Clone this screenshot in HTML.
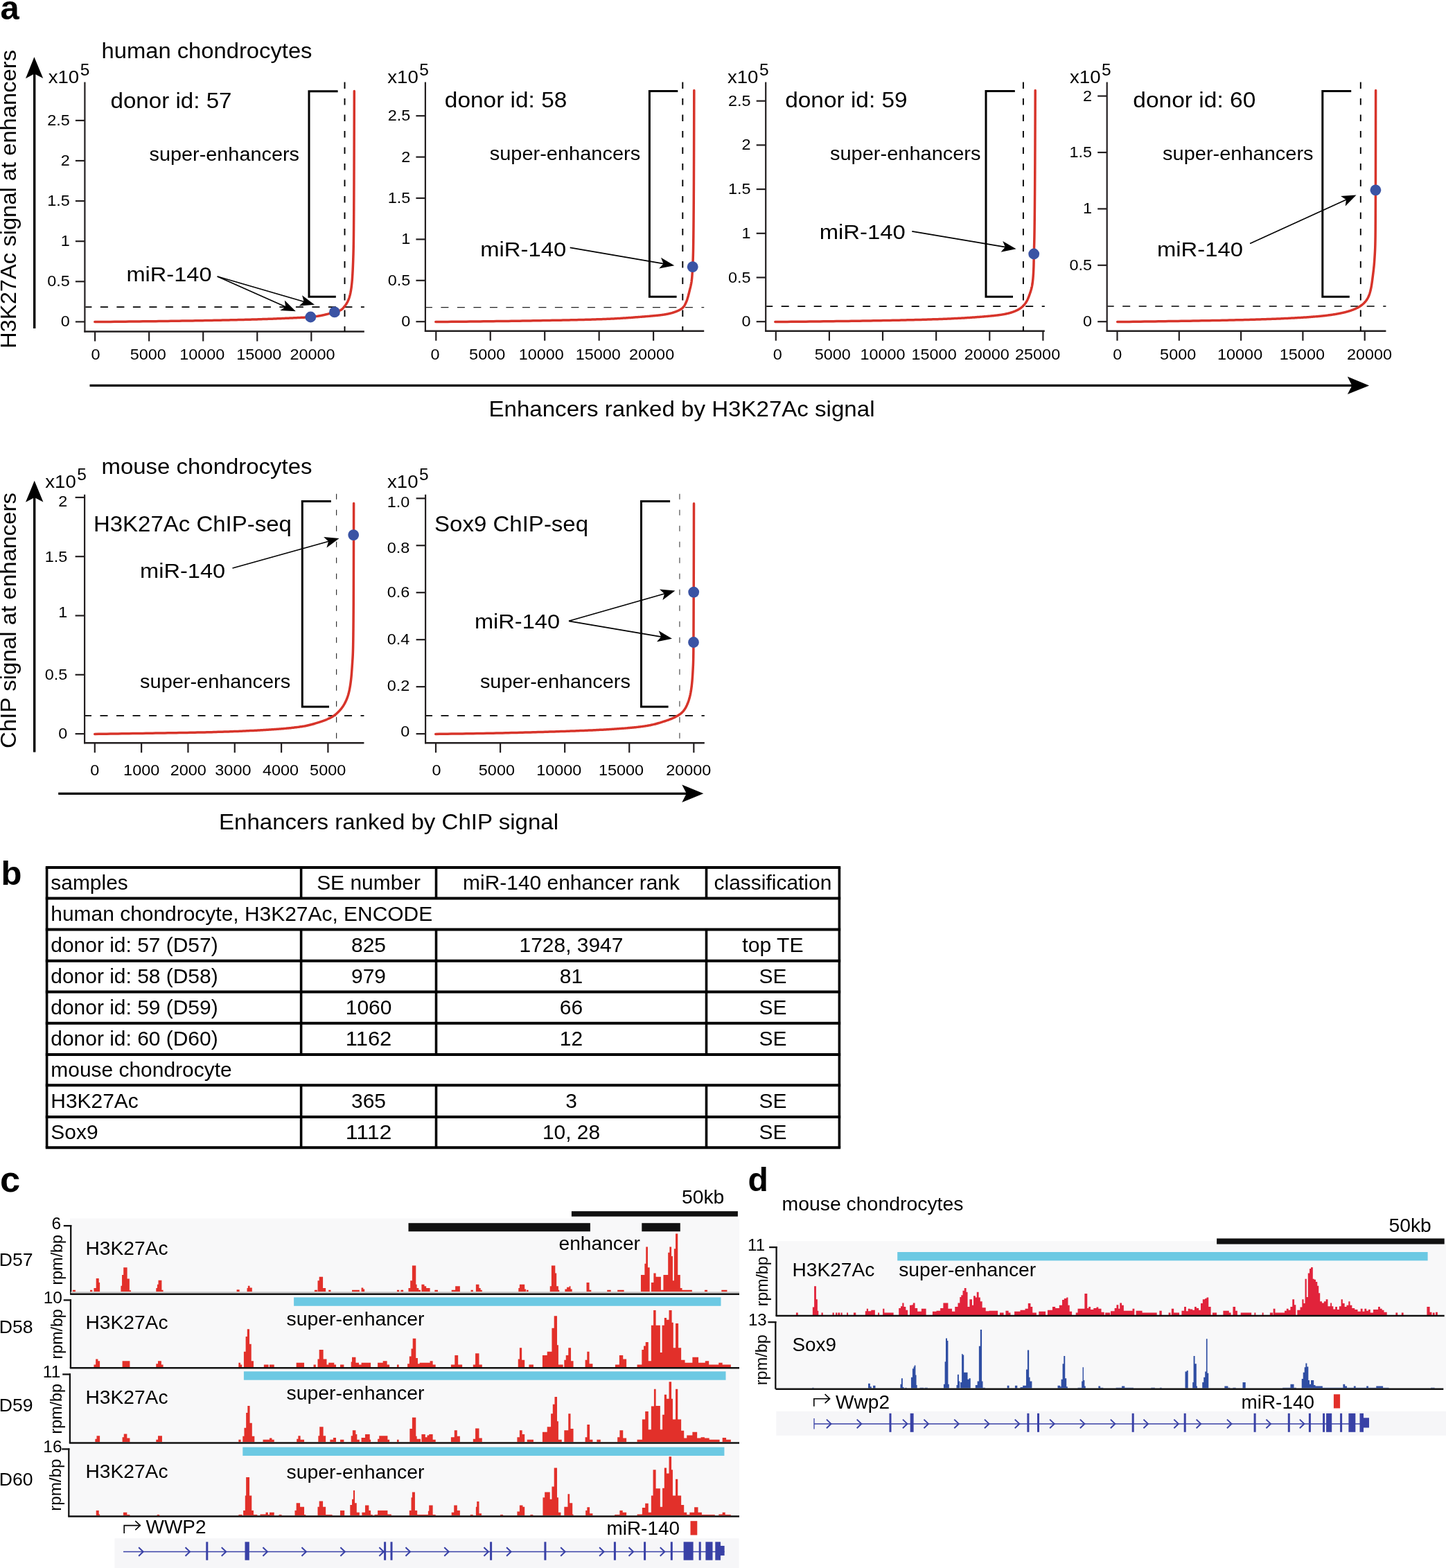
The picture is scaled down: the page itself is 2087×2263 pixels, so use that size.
<!DOCTYPE html>
<html><head><meta charset="utf-8"><title>Figure</title>
<style>html,body{margin:0;padding:0;background:#fff;} svg{display:block;}</style>
</head><body>
<svg width="2087" height="2263" viewBox="0 0 2087 2263" font-family="'Liberation Sans', Arial, Helvetica, sans-serif"><rect width="2087" height="2263" fill="#fff"/>
<text x="0.4" y="28.2" font-size="49" font-weight="bold">a</text>
<line x1="49.7" y1="474" x2="49.7" y2="105" stroke="#000" stroke-width="3.4"/>
<polygon points="49.4,82.3 37,113.3 49.6,106.4 62.2,113" fill="#000"/>
<text transform="translate(23.3,503) rotate(-90)" font-size="31.6" textLength="431" lengthAdjust="spacingAndGlyphs">H3K27Ac signal at enhancers</text>
<text x="146.5" y="83.5" font-size="30.8" textLength="304" lengthAdjust="spacingAndGlyphs">human chondrocytes</text>
<line x1="122.4" y1="118.5" x2="122.4" y2="479.5" stroke="#231f20" stroke-width="2.2"/>
<line x1="121.4" y1="478.5" x2="525.8" y2="478.5" stroke="#231f20" stroke-width="2.4"/>
<line x1="108.9" y1="464.4" x2="122.4" y2="464.4" stroke="#231f20" stroke-width="2.2"/>
<text x="100.8" y="471.4" font-size="22" text-anchor="end" textLength="13.03" lengthAdjust="spacingAndGlyphs">0</text>
<line x1="108.9" y1="406.3" x2="122.4" y2="406.3" stroke="#231f20" stroke-width="2.2"/>
<text x="100.8" y="413.3" font-size="22" text-anchor="end" textLength="32.57" lengthAdjust="spacingAndGlyphs">0.5</text>
<line x1="108.9" y1="348.2" x2="122.4" y2="348.2" stroke="#231f20" stroke-width="2.2"/>
<text x="100.8" y="355.2" font-size="22" text-anchor="end" textLength="13.03" lengthAdjust="spacingAndGlyphs">1</text>
<line x1="108.9" y1="290.1" x2="122.4" y2="290.1" stroke="#231f20" stroke-width="2.2"/>
<text x="100.8" y="297.1" font-size="22" text-anchor="end" textLength="32.57" lengthAdjust="spacingAndGlyphs">1.5</text>
<line x1="108.9" y1="232" x2="122.4" y2="232" stroke="#231f20" stroke-width="2.2"/>
<text x="100.8" y="239" font-size="22" text-anchor="end" textLength="13.03" lengthAdjust="spacingAndGlyphs">2</text>
<line x1="108.9" y1="173.9" x2="122.4" y2="173.9" stroke="#231f20" stroke-width="2.2"/>
<text x="100.8" y="180.9" font-size="22" text-anchor="end" textLength="32.57" lengthAdjust="spacingAndGlyphs">2.5</text>
<line x1="137.1" y1="478.5" x2="137.1" y2="492.5" stroke="#231f20" stroke-width="2.2"/>
<text x="138.1" y="519" font-size="22" text-anchor="middle" textLength="13.03" lengthAdjust="spacingAndGlyphs">0</text>
<line x1="215.15" y1="478.5" x2="215.15" y2="492.5" stroke="#231f20" stroke-width="2.2"/>
<text x="213.8" y="519" font-size="22" text-anchor="middle" textLength="52.12" lengthAdjust="spacingAndGlyphs">5000</text>
<line x1="293.2" y1="478.5" x2="293.2" y2="492.5" stroke="#231f20" stroke-width="2.2"/>
<text x="291.7" y="519" font-size="22" text-anchor="middle" textLength="65.15" lengthAdjust="spacingAndGlyphs">10000</text>
<line x1="371.25" y1="478.5" x2="371.25" y2="492.5" stroke="#231f20" stroke-width="2.2"/>
<text x="373.8" y="519" font-size="22" text-anchor="middle" textLength="65.15" lengthAdjust="spacingAndGlyphs">15000</text>
<line x1="449.3" y1="478.5" x2="449.3" y2="492.5" stroke="#231f20" stroke-width="2.2"/>
<text x="451" y="519" font-size="22" text-anchor="middle" textLength="65.15" lengthAdjust="spacingAndGlyphs">20000</text>
<line x1="497.5" y1="118.5" x2="497.5" y2="478.5" stroke="#000" stroke-width="1.9" stroke-dasharray="9.5 14"/>
<line x1="123.4" y1="443.1" x2="525.8" y2="443.1" stroke="#000" stroke-width="1.6" stroke-dasharray="11 12.5" stroke-dashoffset="2"/>
<path d="M487.6,131.8 H446 V428.3 H484.8" fill="none" stroke="#000" stroke-width="3"/>
<path d="M136.8,464.6 L142.66,464.55 L148.43,464.49 L154.12,464.43 L159.71,464.38 L165.21,464.32 L170.63,464.27 L175.97,464.21 L181.22,464.16 L186.39,464.1 L191.47,464.04 L196.48,463.99 L201.41,463.93 L206.27,463.87 L211.04,463.82 L215.75,463.76 L220.38,463.7 L224.93,463.64 L229.42,463.58 L233.83,463.53 L238.18,463.47 L242.46,463.41 L246.67,463.35 L250.82,463.29 L254.9,463.23 L258.92,463.18 L262.87,463.12 L266.76,463.06 L270.6,463 L274.37,462.94 L278.08,462.88 L281.74,462.82 L285.34,462.76 L288.88,462.7 L292.36,462.64 L295.8,462.58 L299.18,462.52 L302.5,462.46 L305.77,462.39 L309,462.33 L312.17,462.27 L315.29,462.21 L318.37,462.15 L321.39,462.09 L324.37,462.03 L327.3,461.96 L330.19,461.9 L333.03,461.84 L335.83,461.78 L338.58,461.72 L341.29,461.65 L343.96,461.59 L346.58,461.53 L349.17,461.46 L351.71,461.4 L354.22,461.34 L356.68,461.27 L359.11,461.21 L361.5,461.14 L363.85,461.08 L366.16,461.02 L368.44,460.95 L370.69,460.88 L372.9,460.82 L375.07,460.75 L377.21,460.69 L379.31,460.62 L381.39,460.55 L383.43,460.48 L385.44,460.42 L387.42,460.35 L389.36,460.28 L391.28,460.21 L393.17,460.14 L395.02,460.07 L396.85,460 L398.65,459.92 L400.42,459.85 L402.16,459.78 L403.88,459.71 L405.57,459.64 L407.23,459.57 L408.87,459.5 L410.48,459.43 L412.07,459.36 L413.63,459.29 L415.17,459.22 L416.68,459.16 L418.17,459.09 L419.64,459.02 L421.08,458.96 L422.5,458.9 L423.9,458.84 L425.28,458.78 L426.63,458.72 L427.96,458.66 L429.28,458.6 L430.57,458.54 L431.84,458.49 L433.1,458.43 L434.33,458.37 L435.54,458.31 L436.74,458.25 L437.91,458.19 L439.07,458.13 L440.21,458.06 L441.33,458 L442.44,457.93 L443.52,457.86 L444.59,457.79 L445.65,457.71 L446.68,457.63 L447.7,457.55 L448.71,457.46 L449.7,457.37 L450.67,457.28 L451.63,457.18 L452.57,457.08 L453.5,456.97 L454.42,456.86 L455.32,456.74 L456.2,456.62 L457.07,456.49 L457.93,456.37 L458.78,456.24 L459.61,456.1 L460.43,455.96 L461.23,455.82 L462.03,455.68 L462.81,455.54 L463.58,455.39 L464.33,455.24 L465.08,455.09 L465.81,454.93 L466.53,454.78 L467.24,454.62 L467.94,454.46 L468.63,454.3 L469.31,454.14 L469.98,453.98 L470.63,453.82 L471.28,453.66 L471.92,453.49 L472.54,453.33 L473.16,453.17 L473.77,453.01 L474.36,452.84 L474.95,452.68 L475.53,452.52 L476.1,452.36 L476.66,452.2 L477.21,452.04 L477.76,451.88 L478.29,451.73 L478.82,451.57 L479.34,451.42 L479.85,451.27 L480.35,451.12 L480.84,450.97 L481.33,450.83 L481.81,450.69 L482.28,450.55 L482.75,450.42 L483.2,450.28 L483.65,450.16 L484.1,450.03 L484.53,449.91 L484.96,449.8 L485.38,449.68 L485.8,449.57 L486.21,449.46 L486.61,449.35 L487.01,449.24 L487.4,449.13 L487.78,449.01 L488.16,448.9 L488.53,448.78 L488.9,448.66 L489.26,448.54 L489.62,448.42 L489.97,448.28 L490.31,448.15 L490.65,448.01 L490.98,447.86 L491.31,447.7 L491.64,447.54 L491.95,447.37 L492.27,447.19 L492.58,446.99 L492.88,446.78 L493.18,446.55 L493.47,446.32 L493.76,446.07 L494.05,445.81 L494.33,445.55 L494.6,445.27 L494.88,444.99 L495.14,444.71 L495.41,444.42 L495.67,444.12 L495.92,443.83 L496.17,443.53 L496.42,443.23 L496.66,442.93 L496.9,442.63 L497.14,442.33 L497.37,442.04 L497.6,441.75 L497.82,441.45 L498.05,441.16 L498.26,440.87 L498.48,440.58 L498.69,440.28 L498.9,439.99 L499.1,439.69 L499.3,439.4 L499.5,439.1 L499.7,438.8 L499.89,438.5 L500.08,438.2 L500.27,437.9 L500.45,437.59 L500.63,437.29 L500.81,436.98 L500.98,436.67 L501.15,436.35 L501.32,436.04 L501.49,435.72 L501.65,435.4 L501.82,435.08 L501.98,434.75 L502.13,434.42 L502.29,434.09 L502.44,433.75 L502.59,433.42 L502.73,433.07 L502.88,432.73 L503.02,432.38 L503.16,432.03 L503.3,431.67 L503.44,431.31 L503.57,430.95 L503.7,430.58 L503.83,430.2 L503.96,429.82 L504.08,429.44 L504.21,429.05 L504.33,428.66 L504.45,428.27 L504.57,427.86 L504.68,427.46 L504.8,427.04 L504.91,426.63 L505.02,426.2 L505.13,425.77 L505.24,425.34 L505.34,424.89 L505.45,424.45 L505.55,423.99 L505.65,423.53 L505.75,423.07 L505.85,422.6 L505.94,422.12 L506.04,421.63 L506.13,421.14 L506.22,420.65 L506.31,420.14 L506.4,419.63 L506.49,419.12 L506.58,418.59 L506.66,418.06 L506.74,417.53 L506.83,416.98 L506.91,416.43 L506.99,415.88 L507.07,415.31 L507.14,414.74 L507.22,414.16 L507.29,413.58 L507.37,412.98 L507.44,412.39 L507.51,411.78 L507.58,411.16 L507.65,410.54 L507.72,409.91 L507.78,409.28 L507.85,408.63 L507.92,407.98 L507.98,407.32 L508.04,406.65 L508.1,405.97 L508.16,405.27 L508.22,404.56 L508.28,403.83 L508.34,403.08 L508.4,402.33 L508.45,401.55 L508.51,400.77 L508.56,399.97 L508.62,399.16 L508.67,398.33 L508.72,397.49 L508.77,396.64 L508.83,395.78 L508.87,394.91 L508.92,394.02 L508.97,393.12 L509.02,392.22 L509.07,391.3 L509.11,390.37 L509.16,389.42 L509.2,388.47 L509.24,387.51 L509.29,386.54 L509.33,385.56 L509.37,384.57 L509.41,383.57 L509.45,382.57 L509.49,381.55 L509.53,380.53 L509.57,379.5 L509.61,378.46 L509.65,377.42 L509.68,376.39 L509.72,375.36 L509.75,374.33 L509.79,373.3 L509.82,372.26 L509.86,371.21 L509.89,370.15 L509.92,369.07 L509.96,367.97 L509.99,366.85 L510.02,365.7 L510.05,364.53 L510.08,363.32 L510.11,362.08 L510.14,360.81 L510.17,359.49 L510.2,358.13 L510.23,356.72 L510.25,355.26 L510.28,353.75 L510.31,352.18 L510.34,350.56 L510.36,348.87 L510.39,347.12 L510.41,345.3 L510.44,343.38 L510.46,341.36 L510.49,339.24 L510.51,337.03 L510.53,334.72 L510.56,332.31 L510.58,329.8 L510.6,327.21 L510.62,324.51 L510.64,321.73 L510.66,318.85 L510.69,315.88 L510.71,312.82 L510.73,309.67 L510.75,306.43 L510.77,303.11 L510.79,299.69 L510.8,296.19 L510.82,292.61 L510.84,288.94 L510.86,285.18 L510.88,281.34 L510.89,277.42 L510.91,273.42 L510.93,269.34 L510.95,265.17 L510.96,260.93 L510.98,256.61 L510.99,252.21 L511.01,247.73 L511.03,243.18 L511.04,238.56 L511.06,233.86 L511.07,229.08 L511.09,224.24 L511.1,219.32 L511.11,214.33 L511.13,209.27 L511.14,204.14 L511.15,198.94 L511.17,193.67 L511.18,188.34 L511.19,182.94 L511.21,177.47 L511.22,171.95 L511.23,166.35 L511.24,160.7 L511.25,154.98 L511.27,149.2 L511.28,143.36 L511.29,137.46 L511.3,131.5" fill="none" stroke="#d7342a" stroke-width="3.5" stroke-linecap="round" stroke-linejoin="round"/>
<circle cx="448.3" cy="457.5" r="7.9" fill="#3a53a4"/>
<circle cx="482.9" cy="450.4" r="7.9" fill="#3a53a4"/>
<text x="159.5" y="155.5" font-size="31" textLength="175" lengthAdjust="spacingAndGlyphs">donor id: 57</text>
<text x="215.5" y="231.6" font-size="28" textLength="216.5" lengthAdjust="spacingAndGlyphs">super-enhancers</text>
<text x="182.5" y="405.5" font-size="30" textLength="123" lengthAdjust="spacingAndGlyphs">miR-140</text>
<line x1="313.7" y1="399" x2="412.64" y2="443" stroke="#000" stroke-width="1.7"/>
<polygon points="426.8,449.3 404.36,448.08 412.18,442.8 410.86,433.46" fill="#000"/>
<line x1="313.7" y1="399" x2="439.12" y2="435.47" stroke="#000" stroke-width="1.7"/>
<polygon points="454,439.8 431.6,441.62 438.64,435.33 436.07,426.25" fill="#000"/>
<text x="69.7" y="120" font-size="26.5" textLength="44.5" lengthAdjust="spacingAndGlyphs">x10</text>
<text x="115.7" y="108.7" font-size="24.5">5</text>
<line x1="613.9" y1="118.5" x2="613.9" y2="478.7" stroke="#231f20" stroke-width="2.2"/>
<line x1="612.9" y1="477.7" x2="1016.2" y2="477.7" stroke="#231f20" stroke-width="2.4"/>
<line x1="600.4" y1="464.2" x2="613.9" y2="464.2" stroke="#231f20" stroke-width="2.2"/>
<text x="592.3" y="471.2" font-size="22" text-anchor="end" textLength="13.03" lengthAdjust="spacingAndGlyphs">0</text>
<line x1="600.4" y1="404.8" x2="613.9" y2="404.8" stroke="#231f20" stroke-width="2.2"/>
<text x="592.3" y="411.8" font-size="22" text-anchor="end" textLength="32.57" lengthAdjust="spacingAndGlyphs">0.5</text>
<line x1="600.4" y1="345.4" x2="613.9" y2="345.4" stroke="#231f20" stroke-width="2.2"/>
<text x="592.3" y="352.4" font-size="22" text-anchor="end" textLength="13.03" lengthAdjust="spacingAndGlyphs">1</text>
<line x1="600.4" y1="286" x2="613.9" y2="286" stroke="#231f20" stroke-width="2.2"/>
<text x="592.3" y="293" font-size="22" text-anchor="end" textLength="32.57" lengthAdjust="spacingAndGlyphs">1.5</text>
<line x1="600.4" y1="226.6" x2="613.9" y2="226.6" stroke="#231f20" stroke-width="2.2"/>
<text x="592.3" y="233.6" font-size="22" text-anchor="end" textLength="13.03" lengthAdjust="spacingAndGlyphs">2</text>
<line x1="600.4" y1="167.2" x2="613.9" y2="167.2" stroke="#231f20" stroke-width="2.2"/>
<text x="592.3" y="174.2" font-size="22" text-anchor="end" textLength="32.57" lengthAdjust="spacingAndGlyphs">2.5</text>
<line x1="629.3" y1="477.7" x2="629.3" y2="491.7" stroke="#231f20" stroke-width="2.2"/>
<text x="628.1" y="519" font-size="22" text-anchor="middle" textLength="13.03" lengthAdjust="spacingAndGlyphs">0</text>
<line x1="707.75" y1="477.7" x2="707.75" y2="491.7" stroke="#231f20" stroke-width="2.2"/>
<text x="703.2" y="519" font-size="22" text-anchor="middle" textLength="52.12" lengthAdjust="spacingAndGlyphs">5000</text>
<line x1="786.2" y1="477.7" x2="786.2" y2="491.7" stroke="#231f20" stroke-width="2.2"/>
<text x="781.2" y="519" font-size="22" text-anchor="middle" textLength="65.15" lengthAdjust="spacingAndGlyphs">10000</text>
<line x1="864.65" y1="477.7" x2="864.65" y2="491.7" stroke="#231f20" stroke-width="2.2"/>
<text x="863.2" y="519" font-size="22" text-anchor="middle" textLength="65.15" lengthAdjust="spacingAndGlyphs">15000</text>
<line x1="943.1" y1="477.7" x2="943.1" y2="491.7" stroke="#231f20" stroke-width="2.2"/>
<text x="940.6" y="519" font-size="22" text-anchor="middle" textLength="65.15" lengthAdjust="spacingAndGlyphs">20000</text>
<line x1="985.3" y1="118.5" x2="985.3" y2="477.7" stroke="#000" stroke-width="1.9" stroke-dasharray="9.5 14"/>
<line x1="614.9" y1="443.6" x2="1016.2" y2="443.6" stroke="#222" stroke-width="1.25" stroke-dasharray="11 12.5" stroke-dashoffset="2"/>
<path d="M978.3,131.4 H937.4 V428.3 H976.6" fill="none" stroke="#000" stroke-width="3"/>
<path d="M628.8,464.6 L634.64,464.54 L640.38,464.49 L646.04,464.43 L651.6,464.37 L657.08,464.31 L662.48,464.26 L667.79,464.2 L673.01,464.14 L678.16,464.08 L683.22,464.03 L688.21,463.97 L693.12,463.91 L697.95,463.85 L702.71,463.8 L707.39,463.74 L712,463.68 L716.53,463.62 L721,463.56 L725.39,463.5 L729.72,463.45 L733.98,463.39 L738.17,463.33 L742.3,463.27 L746.37,463.21 L750.37,463.15 L754.3,463.09 L758.18,463.03 L761.99,462.98 L765.75,462.92 L769.45,462.86 L773.09,462.8 L776.67,462.74 L780.2,462.68 L783.67,462.61 L787.09,462.55 L790.45,462.49 L793.76,462.43 L797.02,462.37 L800.23,462.32 L803.39,462.26 L806.5,462.2 L809.56,462.14 L812.57,462.08 L815.54,462.02 L818.46,461.96 L821.33,461.9 L824.16,461.84 L826.95,461.78 L829.69,461.72 L832.39,461.66 L835.04,461.6 L837.66,461.54 L840.23,461.48 L842.77,461.41 L845.26,461.35 L847.72,461.29 L850.13,461.22 L852.51,461.15 L854.85,461.08 L857.16,461.02 L859.43,460.95 L861.66,460.87 L863.86,460.8 L866.03,460.73 L868.16,460.65 L870.26,460.57 L872.32,460.49 L874.36,460.41 L876.36,460.33 L878.33,460.24 L880.27,460.15 L882.17,460.06 L884.05,459.97 L885.9,459.88 L887.72,459.79 L889.52,459.69 L891.28,459.6 L893.02,459.5 L894.73,459.4 L896.41,459.3 L898.07,459.2 L899.7,459.1 L901.3,459 L902.88,458.9 L904.44,458.79 L905.97,458.69 L907.48,458.59 L908.96,458.49 L910.42,458.38 L911.86,458.28 L913.28,458.18 L914.67,458.07 L916.04,457.97 L917.39,457.87 L918.72,457.77 L920.03,457.67 L921.32,457.57 L922.58,457.47 L923.83,457.37 L925.06,457.27 L926.27,457.18 L927.46,457.08 L928.63,456.99 L929.79,456.9 L930.92,456.81 L932.04,456.72 L933.14,456.63 L934.22,456.54 L935.29,456.45 L936.34,456.37 L937.37,456.28 L938.39,456.2 L939.39,456.11 L940.38,456.03 L941.35,455.95 L942.3,455.86 L943.24,455.78 L944.17,455.7 L945.08,455.61 L945.97,455.53 L946.86,455.44 L947.73,455.36 L948.58,455.27 L949.42,455.18 L950.25,455.09 L951.07,455 L951.87,454.91 L952.66,454.82 L953.44,454.73 L954.21,454.63 L954.96,454.54 L955.7,454.44 L956.43,454.34 L957.15,454.23 L957.86,454.13 L958.56,454.02 L959.24,453.91 L959.92,453.8 L960.59,453.68 L961.24,453.57 L961.88,453.45 L962.52,453.33 L963.14,453.2 L963.76,453.08 L964.36,452.95 L964.96,452.83 L965.54,452.7 L966.12,452.56 L966.69,452.43 L967.25,452.3 L967.8,452.16 L968.34,452.02 L968.87,451.88 L969.4,451.74 L969.92,451.59 L970.43,451.45 L970.93,451.3 L971.42,451.15 L971.9,451 L972.38,450.85 L972.85,450.69 L973.32,450.54 L973.77,450.38 L974.22,450.22 L974.66,450.06 L975.1,449.9 L975.52,449.74 L975.95,449.57 L976.36,449.41 L976.77,449.24 L977.17,449.07 L977.57,448.9 L977.96,448.73 L978.34,448.55 L978.72,448.38 L979.09,448.2 L979.45,448.02 L979.81,447.84 L980.17,447.66 L980.52,447.48 L980.86,447.3 L981.2,447.11 L981.53,446.93 L981.86,446.74 L982.18,446.54 L982.5,446.35 L982.81,446.15 L983.12,445.94 L983.42,445.73 L983.72,445.52 L984.01,445.3 L984.3,445.07 L984.58,444.84 L984.86,444.61 L985.14,444.36 L985.41,444.11 L985.68,443.85 L985.94,443.59 L986.2,443.31 L986.45,443.03 L986.7,442.72 L986.95,442.4 L987.19,442.07 L987.43,441.72 L987.67,441.35 L987.9,440.97 L988.13,440.58 L988.35,440.18 L988.57,439.77 L988.79,439.35 L989,438.93 L989.21,438.49 L989.42,438.06 L989.63,437.62 L989.83,437.17 L990.03,436.73 L990.22,436.28 L990.41,435.84 L990.6,435.4 L990.79,434.95 L990.97,434.5 L991.15,434.03 L991.33,433.56 L991.5,433.08 L991.67,432.59 L991.84,432.1 L992.01,431.6 L992.17,431.09 L992.33,430.58 L992.49,430.06 L992.65,429.54 L992.8,429.02 L992.95,428.5 L993.1,427.97 L993.25,427.44 L993.39,426.91 L993.54,426.38 L993.68,425.85 L993.81,425.32 L993.95,424.8 L994.08,424.27 L994.21,423.75 L994.34,423.23 L994.47,422.71 L994.6,422.2 L994.72,421.7 L994.84,421.2 L994.96,420.7 L995.08,420.21 L995.2,419.73 L995.31,419.26 L995.42,418.8 L995.53,418.35 L995.64,417.9 L995.75,417.47 L995.85,417.04 L995.96,416.62 L996.06,416.21 L996.16,415.8 L996.26,415.4 L996.36,415 L996.45,414.6 L996.55,414.21 L996.64,413.82 L996.73,413.43 L996.82,413.04 L996.91,412.66 L997,412.27 L997.08,411.88 L997.17,411.48 L997.25,411.09 L997.33,410.68 L997.41,410.28 L997.49,409.87 L997.57,409.45 L997.65,409.03 L997.72,408.6 L997.8,408.16 L997.87,407.71 L997.94,407.25 L998.02,406.78 L998.09,406.3 L998.15,405.81 L998.22,405.31 L998.29,404.79 L998.35,404.26 L998.42,403.71 L998.48,403.15 L998.55,402.57 L998.61,401.96 L998.67,401.33 L998.73,400.68 L998.79,400 L998.85,399.3 L998.9,398.58 L998.96,397.84 L999.01,397.08 L999.07,396.3 L999.12,395.51 L999.17,394.7 L999.23,393.88 L999.28,393.05 L999.33,392.2 L999.38,391.35 L999.43,390.48 L999.47,389.6 L999.52,388.72 L999.57,387.83 L999.61,386.93 L999.66,386.03 L999.7,385.13 L999.75,384.23 L999.79,383.33 L999.83,382.43 L999.87,381.52 L999.92,380.61 L999.96,379.69 L1000,378.76 L1000.03,377.81 L1000.07,376.85 L1000.11,375.86 L1000.15,374.86 L1000.18,373.82 L1000.22,372.76 L1000.26,371.67 L1000.29,370.55 L1000.33,369.38 L1000.36,368.18 L1000.39,366.94 L1000.43,365.65 L1000.46,364.31 L1000.49,362.93 L1000.52,361.48 L1000.55,359.96 L1000.58,358.37 L1000.61,356.7 L1000.64,354.96 L1000.67,353.15 L1000.7,351.27 L1000.73,349.33 L1000.76,347.32 L1000.78,345.25 L1000.81,343.11 L1000.84,340.92 L1000.86,338.67 L1000.89,336.36 L1000.91,334 L1000.94,331.58 L1000.96,329.11 L1000.99,326.59 L1001.01,324.03 L1001.03,321.41 L1001.06,318.76 L1001.08,316.05 L1001.1,313.31 L1001.12,310.53 L1001.14,307.71 L1001.17,304.85 L1001.19,301.96 L1001.21,299.03 L1001.23,296.03 L1001.25,292.96 L1001.27,289.8 L1001.29,286.57 L1001.3,283.27 L1001.32,279.88 L1001.34,276.43 L1001.36,272.89 L1001.38,269.29 L1001.4,265.61 L1001.41,261.86 L1001.43,258.04 L1001.45,254.15 L1001.46,250.19 L1001.48,246.16 L1001.49,242.06 L1001.51,237.89 L1001.53,233.66 L1001.54,229.35 L1001.56,224.99 L1001.57,220.56 L1001.59,216.06 L1001.6,211.5 L1001.61,206.88 L1001.63,202.2 L1001.64,197.45 L1001.65,192.65 L1001.67,187.78 L1001.68,182.85 L1001.69,177.87 L1001.71,172.83 L1001.72,167.73 L1001.73,162.58 L1001.74,157.36 L1001.75,152.1 L1001.77,146.78 L1001.78,141.41 L1001.79,135.98 L1001.8,130.5" fill="none" stroke="#d7342a" stroke-width="3.5" stroke-linecap="round" stroke-linejoin="round"/>
<circle cx="999.7" cy="385.2" r="7.9" fill="#3a53a4"/>
<text x="641.8" y="155.2" font-size="31" textLength="176.5" lengthAdjust="spacingAndGlyphs">donor id: 58</text>
<text x="706.7" y="230.6" font-size="28" textLength="217.5" lengthAdjust="spacingAndGlyphs">super-enhancers</text>
<text x="693.2" y="369.5" font-size="30" textLength="124" lengthAdjust="spacingAndGlyphs">miR-140</text>
<line x1="822.7" y1="357.3" x2="958.02" y2="380.57" stroke="#000" stroke-width="1.7"/>
<polygon points="973.3,383.2 951.25,387.52 957.53,380.49 953.96,371.76" fill="#000"/>
<text x="559.3" y="120" font-size="26.5" textLength="44.5" lengthAdjust="spacingAndGlyphs">x10</text>
<text x="605.3" y="108.7" font-size="24.5">5</text>
<line x1="1105.2" y1="118.5" x2="1105.2" y2="478.7" stroke="#231f20" stroke-width="2.2"/>
<line x1="1104.2" y1="477.7" x2="1507.8" y2="477.7" stroke="#231f20" stroke-width="2.4"/>
<line x1="1091.7" y1="464.2" x2="1105.2" y2="464.2" stroke="#231f20" stroke-width="2.2"/>
<text x="1083.6" y="471.2" font-size="22" text-anchor="end" textLength="13.03" lengthAdjust="spacingAndGlyphs">0</text>
<line x1="1091.7" y1="400.5" x2="1105.2" y2="400.5" stroke="#231f20" stroke-width="2.2"/>
<text x="1083.6" y="407.5" font-size="22" text-anchor="end" textLength="32.57" lengthAdjust="spacingAndGlyphs">0.5</text>
<line x1="1091.7" y1="336.8" x2="1105.2" y2="336.8" stroke="#231f20" stroke-width="2.2"/>
<text x="1083.6" y="343.8" font-size="22" text-anchor="end" textLength="13.03" lengthAdjust="spacingAndGlyphs">1</text>
<line x1="1091.7" y1="273.1" x2="1105.2" y2="273.1" stroke="#231f20" stroke-width="2.2"/>
<text x="1083.6" y="280.1" font-size="22" text-anchor="end" textLength="32.57" lengthAdjust="spacingAndGlyphs">1.5</text>
<line x1="1091.7" y1="209.4" x2="1105.2" y2="209.4" stroke="#231f20" stroke-width="2.2"/>
<text x="1083.6" y="216.4" font-size="22" text-anchor="end" textLength="13.03" lengthAdjust="spacingAndGlyphs">2</text>
<line x1="1091.7" y1="145.7" x2="1105.2" y2="145.7" stroke="#231f20" stroke-width="2.2"/>
<text x="1083.6" y="152.7" font-size="22" text-anchor="end" textLength="32.57" lengthAdjust="spacingAndGlyphs">2.5</text>
<line x1="1119.8" y1="477.7" x2="1119.8" y2="491.7" stroke="#231f20" stroke-width="2.2"/>
<text x="1122.4" y="519" font-size="22" text-anchor="middle" textLength="13.03" lengthAdjust="spacingAndGlyphs">0</text>
<line x1="1196.92" y1="477.7" x2="1196.92" y2="491.7" stroke="#231f20" stroke-width="2.2"/>
<text x="1201.8" y="519" font-size="22" text-anchor="middle" textLength="52.12" lengthAdjust="spacingAndGlyphs">5000</text>
<line x1="1274.04" y1="477.7" x2="1274.04" y2="491.7" stroke="#231f20" stroke-width="2.2"/>
<text x="1274" y="519" font-size="22" text-anchor="middle" textLength="65.15" lengthAdjust="spacingAndGlyphs">10000</text>
<line x1="1351.16" y1="477.7" x2="1351.16" y2="491.7" stroke="#231f20" stroke-width="2.2"/>
<text x="1348.1" y="519" font-size="22" text-anchor="middle" textLength="65.15" lengthAdjust="spacingAndGlyphs">15000</text>
<line x1="1428.28" y1="477.7" x2="1428.28" y2="491.7" stroke="#231f20" stroke-width="2.2"/>
<text x="1424.3" y="519" font-size="22" text-anchor="middle" textLength="65.15" lengthAdjust="spacingAndGlyphs">20000</text>
<line x1="1505.4" y1="477.7" x2="1505.4" y2="491.7" stroke="#231f20" stroke-width="2.2"/>
<text x="1497.6" y="519" font-size="22" text-anchor="middle" textLength="65.15" lengthAdjust="spacingAndGlyphs">25000</text>
<line x1="1476.9" y1="118.5" x2="1476.9" y2="477.7" stroke="#000" stroke-width="1.9" stroke-dasharray="9.5 14"/>
<line x1="1106.2" y1="442.1" x2="1507.8" y2="442.1" stroke="#000" stroke-width="1.6" stroke-dasharray="11 12.5" stroke-dashoffset="2"/>
<path d="M1464.8,131.4 H1423 V428.3 H1462" fill="none" stroke="#000" stroke-width="3"/>
<path d="M1118.8,464.6 L1124.68,464.54 L1130.47,464.49 L1136.16,464.43 L1141.77,464.37 L1147.29,464.31 L1152.73,464.25 L1158.07,464.2 L1163.34,464.14 L1168.52,464.08 L1173.62,464.02 L1178.65,463.96 L1183.59,463.91 L1188.46,463.85 L1193.25,463.79 L1197.96,463.73 L1202.6,463.67 L1207.17,463.61 L1211.67,463.56 L1216.1,463.5 L1220.46,463.44 L1224.75,463.38 L1228.97,463.32 L1233.13,463.26 L1237.22,463.21 L1241.25,463.15 L1245.21,463.09 L1249.12,463.03 L1252.96,462.97 L1256.74,462.91 L1260.46,462.85 L1264.13,462.78 L1267.74,462.72 L1271.29,462.66 L1274.78,462.59 L1278.22,462.53 L1281.61,462.47 L1284.94,462.4 L1288.23,462.33 L1291.46,462.27 L1294.64,462.2 L1297.77,462.14 L1300.85,462.07 L1303.88,462 L1306.87,461.94 L1309.81,461.87 L1312.7,461.8 L1315.55,461.73 L1318.35,461.66 L1321.11,461.59 L1323.83,461.52 L1326.5,461.45 L1329.14,461.38 L1331.73,461.31 L1334.28,461.23 L1336.79,461.16 L1339.26,461.09 L1341.69,461.01 L1344.09,460.93 L1346.45,460.86 L1348.77,460.78 L1351.05,460.7 L1353.3,460.63 L1355.51,460.55 L1357.69,460.47 L1359.84,460.39 L1361.95,460.3 L1364.03,460.22 L1366.07,460.14 L1368.09,460.05 L1370.07,459.97 L1372.02,459.88 L1373.94,459.79 L1375.83,459.7 L1377.69,459.62 L1379.53,459.53 L1381.33,459.43 L1383.11,459.34 L1384.85,459.25 L1386.57,459.16 L1388.27,459.07 L1389.93,458.97 L1391.57,458.88 L1393.19,458.78 L1394.78,458.69 L1396.34,458.59 L1397.89,458.5 L1399.4,458.4 L1400.89,458.3 L1402.36,458.2 L1403.81,458.11 L1405.23,458.01 L1406.64,457.91 L1408.02,457.81 L1409.37,457.71 L1410.71,457.61 L1412.03,457.51 L1413.32,457.41 L1414.6,457.32 L1415.85,457.22 L1417.09,457.12 L1418.31,457.02 L1419.5,456.92 L1420.68,456.82 L1421.84,456.72 L1422.98,456.62 L1424.11,456.52 L1425.21,456.43 L1426.3,456.33 L1427.38,456.23 L1428.43,456.13 L1429.47,456.04 L1430.49,455.94 L1431.5,455.84 L1432.49,455.74 L1433.47,455.64 L1434.43,455.54 L1435.37,455.44 L1436.3,455.34 L1437.22,455.24 L1438.12,455.13 L1439.01,455.03 L1439.88,454.92 L1440.74,454.81 L1441.59,454.7 L1442.42,454.59 L1443.24,454.47 L1444.05,454.36 L1444.84,454.24 L1445.63,454.12 L1446.4,454 L1447.16,453.88 L1447.9,453.75 L1448.64,453.62 L1449.36,453.49 L1450.07,453.35 L1450.77,453.22 L1451.46,453.08 L1452.14,452.94 L1452.81,452.79 L1453.47,452.64 L1454.12,452.49 L1454.75,452.34 L1455.38,452.19 L1456,452.03 L1456.61,451.87 L1457.21,451.71 L1457.79,451.54 L1458.37,451.37 L1458.95,451.2 L1459.51,451.03 L1460.06,450.86 L1460.61,450.68 L1461.14,450.5 L1461.67,450.32 L1462.19,450.14 L1462.7,449.95 L1463.2,449.77 L1463.7,449.58 L1464.19,449.39 L1464.67,449.19 L1465.14,449 L1465.6,448.8 L1466.06,448.6 L1466.51,448.4 L1466.96,448.19 L1467.39,447.99 L1467.82,447.78 L1468.25,447.57 L1468.66,447.36 L1469.07,447.15 L1469.48,446.93 L1469.88,446.71 L1470.27,446.49 L1470.65,446.27 L1471.03,446.04 L1471.4,445.81 L1471.77,445.57 L1472.13,445.33 L1472.49,445.09 L1472.84,444.84 L1473.18,444.59 L1473.52,444.34 L1473.86,444.08 L1474.19,443.81 L1474.51,443.55 L1474.83,443.28 L1475.14,443.01 L1475.45,442.73 L1475.76,442.45 L1476.05,442.17 L1476.35,441.89 L1476.64,441.6 L1476.92,441.31 L1477.21,441.01 L1477.48,440.72 L1477.75,440.42 L1478.02,440.11 L1478.29,439.81 L1478.55,439.5 L1478.8,439.19 L1479.05,438.88 L1479.3,438.57 L1479.54,438.25 L1479.78,437.93 L1480.02,437.61 L1480.25,437.28 L1480.48,436.95 L1480.71,436.62 L1480.93,436.27 L1481.15,435.92 L1481.36,435.57 L1481.57,435.21 L1481.78,434.84 L1481.99,434.47 L1482.19,434.1 L1482.39,433.72 L1482.58,433.33 L1482.78,432.95 L1482.97,432.56 L1483.15,432.16 L1483.34,431.77 L1483.52,431.37 L1483.7,430.96 L1483.87,430.56 L1484.04,430.15 L1484.21,429.75 L1484.38,429.34 L1484.54,428.93 L1484.71,428.51 L1484.87,428.1 L1485.02,427.69 L1485.18,427.28 L1485.33,426.87 L1485.48,426.46 L1485.63,426.05 L1485.77,425.64 L1485.91,425.23 L1486.05,424.82 L1486.19,424.42 L1486.33,424.02 L1486.46,423.62 L1486.59,423.23 L1486.72,422.84 L1486.85,422.46 L1486.98,422.08 L1487.1,421.71 L1487.22,421.34 L1487.34,420.97 L1487.46,420.6 L1487.58,420.24 L1487.69,419.88 L1487.8,419.51 L1487.92,419.15 L1488.02,418.79 L1488.13,418.42 L1488.24,418.06 L1488.34,417.69 L1488.44,417.32 L1488.55,416.95 L1488.65,416.57 L1488.74,416.19 L1488.84,415.81 L1488.93,415.42 L1489.03,415.02 L1489.12,414.62 L1489.21,414.21 L1489.3,413.79 L1489.39,413.37 L1489.47,412.94 L1489.56,412.5 L1489.64,412.05 L1489.72,411.59 L1489.8,411.12 L1489.88,410.64 L1489.96,410.15 L1490.04,409.65 L1490.11,409.13 L1490.19,408.61 L1490.26,408.07 L1490.34,407.51 L1490.41,406.94 L1490.48,406.36 L1490.55,405.77 L1490.61,405.16 L1490.68,404.55 L1490.75,403.91 L1490.81,403.26 L1490.88,402.59 L1490.94,401.9 L1491,401.19 L1491.06,400.46 L1491.12,399.7 L1491.18,398.92 L1491.24,398.11 L1491.3,397.28 L1491.35,396.41 L1491.41,395.51 L1491.46,394.58 L1491.52,393.62 L1491.57,392.62 L1491.62,391.58 L1491.67,390.51 L1491.72,389.4 L1491.77,388.25 L1491.82,387.05 L1491.87,385.81 L1491.92,384.5 L1491.96,382.9 L1492.01,381.01 L1492.05,378.9 L1492.1,376.65 L1492.14,374.34 L1492.19,372.03 L1492.23,369.81 L1492.27,367.74 L1492.31,365.9 L1492.35,364.2 L1492.39,362.57 L1492.43,361.02 L1492.47,359.53 L1492.51,358.09 L1492.55,356.69 L1492.58,355.32 L1492.62,353.96 L1492.65,352.62 L1492.69,351.28 L1492.72,349.92 L1492.76,348.54 L1492.79,347.13 L1492.82,345.68 L1492.86,344.17 L1492.89,342.6 L1492.92,340.95 L1492.95,339.22 L1492.98,337.39 L1493.01,335.47 L1493.04,333.49 L1493.07,331.47 L1493.1,329.4 L1493.13,327.3 L1493.15,325.16 L1493.18,322.97 L1493.21,320.75 L1493.23,318.48 L1493.26,316.18 L1493.29,313.83 L1493.31,311.44 L1493.34,309.02 L1493.36,306.55 L1493.39,304.04 L1493.41,301.49 L1493.43,298.89 L1493.46,296.26 L1493.48,293.59 L1493.5,290.87 L1493.52,288.12 L1493.54,285.32 L1493.56,282.48 L1493.59,279.6 L1493.61,276.68 L1493.63,273.72 L1493.65,270.72 L1493.67,267.67 L1493.68,264.59 L1493.7,261.46 L1493.72,258.3 L1493.74,255.09 L1493.76,251.84 L1493.78,248.55 L1493.79,245.21 L1493.81,241.84 L1493.83,238.42 L1493.85,234.97 L1493.86,231.47 L1493.88,227.93 L1493.89,224.35 L1493.91,220.73 L1493.93,217.06 L1493.94,213.36 L1493.96,209.61 L1493.97,205.82 L1493.98,201.99 L1494,198.12 L1494.01,194.21 L1494.03,190.25 L1494.04,186.26 L1494.05,182.22 L1494.07,178.14 L1494.08,174.02 L1494.09,169.85 L1494.11,165.65 L1494.12,161.4 L1494.13,157.11 L1494.14,152.78 L1494.15,148.41 L1494.17,143.99 L1494.18,139.54 L1494.19,135.04 L1494.2,130.5" fill="none" stroke="#d7342a" stroke-width="3.5" stroke-linecap="round" stroke-linejoin="round"/>
<circle cx="1492.2" cy="366.5" r="7.9" fill="#3a53a4"/>
<text x="1133.2" y="155.2" font-size="31" textLength="176.5" lengthAdjust="spacingAndGlyphs">donor id: 59</text>
<text x="1198" y="230.6" font-size="28" textLength="217.5" lengthAdjust="spacingAndGlyphs">super-enhancers</text>
<text x="1182.7" y="344.6" font-size="30" textLength="124" lengthAdjust="spacingAndGlyphs">miR-140</text>
<line x1="1316.3" y1="333.8" x2="1451.32" y2="356.71" stroke="#000" stroke-width="1.7"/>
<polygon points="1466.6,359.3 1444.56,363.67 1450.83,356.62 1447.23,347.9" fill="#000"/>
<text x="1049.9" y="120" font-size="26.5" textLength="44.5" lengthAdjust="spacingAndGlyphs">x10</text>
<text x="1095.9" y="108.7" font-size="24.5">5</text>
<line x1="1597.7" y1="118.5" x2="1597.7" y2="478.7" stroke="#231f20" stroke-width="2.2"/>
<line x1="1596.7" y1="477.7" x2="2000.4" y2="477.7" stroke="#231f20" stroke-width="2.4"/>
<line x1="1584.2" y1="464.2" x2="1597.7" y2="464.2" stroke="#231f20" stroke-width="2.2"/>
<text x="1576.1" y="471.2" font-size="22" text-anchor="end" textLength="13.03" lengthAdjust="spacingAndGlyphs">0</text>
<line x1="1584.2" y1="382.8" x2="1597.7" y2="382.8" stroke="#231f20" stroke-width="2.2"/>
<text x="1576.1" y="389.8" font-size="22" text-anchor="end" textLength="32.57" lengthAdjust="spacingAndGlyphs">0.5</text>
<line x1="1584.2" y1="301.4" x2="1597.7" y2="301.4" stroke="#231f20" stroke-width="2.2"/>
<text x="1576.1" y="308.4" font-size="22" text-anchor="end" textLength="13.03" lengthAdjust="spacingAndGlyphs">1</text>
<line x1="1584.2" y1="220" x2="1597.7" y2="220" stroke="#231f20" stroke-width="2.2"/>
<text x="1576.1" y="227" font-size="22" text-anchor="end" textLength="32.57" lengthAdjust="spacingAndGlyphs">1.5</text>
<line x1="1584.2" y1="138.6" x2="1597.7" y2="138.6" stroke="#231f20" stroke-width="2.2"/>
<text x="1576.1" y="145.6" font-size="22" text-anchor="end" textLength="13.03" lengthAdjust="spacingAndGlyphs">2</text>
<line x1="1612.5" y1="477.7" x2="1612.5" y2="491.7" stroke="#231f20" stroke-width="2.2"/>
<text x="1612.9" y="519" font-size="22" text-anchor="middle" textLength="13.03" lengthAdjust="spacingAndGlyphs">0</text>
<line x1="1701.8" y1="477.7" x2="1701.8" y2="491.7" stroke="#231f20" stroke-width="2.2"/>
<text x="1700.2" y="519" font-size="22" text-anchor="middle" textLength="52.12" lengthAdjust="spacingAndGlyphs">5000</text>
<line x1="1791.1" y1="477.7" x2="1791.1" y2="491.7" stroke="#231f20" stroke-width="2.2"/>
<text x="1789.6" y="519" font-size="22" text-anchor="middle" textLength="65.15" lengthAdjust="spacingAndGlyphs">10000</text>
<line x1="1880.4" y1="477.7" x2="1880.4" y2="491.7" stroke="#231f20" stroke-width="2.2"/>
<text x="1879.4" y="519" font-size="22" text-anchor="middle" textLength="65.15" lengthAdjust="spacingAndGlyphs">15000</text>
<line x1="1969.7" y1="477.7" x2="1969.7" y2="491.7" stroke="#231f20" stroke-width="2.2"/>
<text x="1976.5" y="519" font-size="22" text-anchor="middle" textLength="65.15" lengthAdjust="spacingAndGlyphs">20000</text>
<line x1="1963.8" y1="118.5" x2="1963.8" y2="477.7" stroke="#000" stroke-width="1.9" stroke-dasharray="9.5 14"/>
<line x1="1598.7" y1="442" x2="2000.4" y2="442" stroke="#000" stroke-width="1.6" stroke-dasharray="11 12.5" stroke-dashoffset="2"/>
<path d="M1950.2,131.4 H1908.8 V428.3 H1947.8" fill="none" stroke="#000" stroke-width="3"/>
<path d="M1612.7,464.6 L1618.53,464.53 L1624.28,464.46 L1629.93,464.39 L1635.5,464.31 L1640.97,464.24 L1646.37,464.17 L1651.67,464.1 L1656.9,464.03 L1662.04,463.96 L1667.11,463.89 L1672.09,463.82 L1677,463.75 L1681.83,463.68 L1686.58,463.61 L1691.26,463.54 L1695.87,463.47 L1700.41,463.4 L1704.87,463.34 L1709.26,463.27 L1713.59,463.2 L1717.85,463.14 L1722.04,463.07 L1726.17,463 L1730.23,462.94 L1734.23,462.87 L1738.17,462.8 L1742.04,462.73 L1745.85,462.67 L1749.61,462.6 L1753.31,462.53 L1756.94,462.46 L1760.53,462.39 L1764.05,462.32 L1767.52,462.24 L1770.94,462.17 L1774.3,462.09 L1777.61,462.02 L1780.87,461.94 L1784.08,461.87 L1787.24,461.79 L1790.34,461.71 L1793.4,461.64 L1796.42,461.56 L1799.38,461.48 L1802.3,461.4 L1805.17,461.32 L1808,461.24 L1810.79,461.16 L1813.53,461.08 L1816.23,461 L1818.88,460.92 L1821.5,460.84 L1824.07,460.75 L1826.6,460.67 L1829.1,460.59 L1831.55,460.5 L1833.97,460.41 L1836.35,460.33 L1838.69,460.24 L1840.99,460.15 L1843.26,460.06 L1845.5,459.97 L1847.69,459.88 L1849.86,459.78 L1851.99,459.69 L1854.09,459.6 L1856.15,459.5 L1858.18,459.41 L1860.18,459.31 L1862.15,459.21 L1864.09,459.12 L1866,459.02 L1867.88,458.92 L1869.73,458.82 L1871.55,458.72 L1873.34,458.62 L1875.11,458.52 L1876.84,458.41 L1878.55,458.31 L1880.23,458.2 L1881.89,458.1 L1883.52,457.99 L1885.13,457.88 L1886.71,457.78 L1888.26,457.67 L1889.79,457.56 L1891.3,457.45 L1892.78,457.33 L1894.24,457.22 L1895.68,457.11 L1897.1,456.99 L1898.49,456.87 L1899.86,456.76 L1901.21,456.64 L1902.54,456.52 L1903.85,456.4 L1905.13,456.28 L1906.4,456.15 L1907.65,456.03 L1908.88,455.9 L1910.09,455.78 L1911.28,455.65 L1912.45,455.52 L1913.6,455.39 L1914.74,455.26 L1915.85,455.12 L1916.95,454.99 L1918.04,454.85 L1919.1,454.71 L1920.15,454.57 L1921.18,454.42 L1922.2,454.28 L1923.2,454.13 L1924.19,453.98 L1925.16,453.83 L1926.11,453.68 L1927.05,453.52 L1927.98,453.36 L1928.89,453.21 L1929.79,453.05 L1930.67,452.89 L1931.54,452.73 L1932.39,452.56 L1933.23,452.4 L1934.06,452.23 L1934.88,452.06 L1935.68,451.89 L1936.47,451.72 L1937.25,451.55 L1938.02,451.38 L1938.77,451.21 L1939.51,451.03 L1940.24,450.85 L1940.96,450.68 L1941.67,450.5 L1942.37,450.32 L1943.05,450.14 L1943.73,449.96 L1944.39,449.77 L1945.05,449.59 L1945.69,449.41 L1946.33,449.22 L1946.95,449.03 L1947.56,448.84 L1948.17,448.65 L1948.76,448.46 L1949.35,448.27 L1949.93,448.07 L1950.5,447.88 L1951.05,447.68 L1951.6,447.48 L1952.15,447.28 L1952.68,447.08 L1953.21,446.88 L1953.72,446.67 L1954.23,446.47 L1954.73,446.26 L1955.22,446.05 L1955.71,445.84 L1956.19,445.63 L1956.66,445.41 L1957.12,445.2 L1957.58,444.98 L1958.02,444.76 L1958.47,444.54 L1958.9,444.32 L1959.33,444.09 L1959.75,443.87 L1960.16,443.64 L1960.57,443.41 L1960.97,443.18 L1961.37,442.95 L1961.76,442.71 L1962.14,442.48 L1962.52,442.24 L1962.89,442 L1963.26,441.76 L1963.62,441.52 L1963.97,441.27 L1964.32,441.02 L1964.66,440.78 L1965,440.52 L1965.33,440.27 L1965.66,440.02 L1965.98,439.76 L1966.3,439.51 L1966.61,439.25 L1966.92,438.99 L1967.22,438.73 L1967.52,438.47 L1967.81,438.2 L1968.1,437.93 L1968.39,437.66 L1968.67,437.39 L1968.94,437.12 L1969.21,436.84 L1969.48,436.56 L1969.74,436.28 L1970,436 L1970.26,435.71 L1970.51,435.42 L1970.75,435.13 L1971,434.83 L1971.23,434.53 L1971.47,434.23 L1971.7,433.92 L1971.93,433.61 L1972.15,433.3 L1972.37,432.99 L1972.59,432.67 L1972.81,432.34 L1973.02,432.02 L1973.22,431.68 L1973.43,431.35 L1973.63,431.01 L1973.83,430.67 L1974.02,430.32 L1974.21,429.97 L1974.4,429.61 L1974.59,429.25 L1974.77,428.88 L1974.95,428.51 L1975.13,428.14 L1975.3,427.76 L1975.47,427.36 L1975.64,426.95 L1975.81,426.54 L1975.97,426.11 L1976.13,425.68 L1976.29,425.23 L1976.45,424.78 L1976.6,424.32 L1976.76,423.85 L1976.9,423.37 L1977.05,422.88 L1977.2,422.39 L1977.34,421.89 L1977.48,421.39 L1977.62,420.88 L1977.75,420.36 L1977.88,419.84 L1978.02,419.31 L1978.15,418.78 L1978.27,418.25 L1978.4,417.71 L1978.52,417.16 L1978.64,416.6 L1978.76,416.02 L1978.88,415.43 L1979,414.83 L1979.11,414.22 L1979.22,413.6 L1979.33,412.97 L1979.44,412.33 L1979.55,411.68 L1979.65,411.02 L1979.76,410.36 L1979.86,409.69 L1979.96,409.02 L1980.06,408.35 L1980.16,407.67 L1980.25,406.99 L1980.35,406.31 L1980.44,405.63 L1980.53,404.95 L1980.62,404.28 L1980.71,403.6 L1980.8,402.93 L1980.88,402.27 L1980.97,401.61 L1981.05,400.95 L1981.13,400.31 L1981.21,399.67 L1981.29,399.04 L1981.37,398.42 L1981.45,397.8 L1981.52,397.21 L1981.6,396.61 L1981.67,396.03 L1981.74,395.45 L1981.82,394.88 L1981.89,394.32 L1981.95,393.76 L1982.02,393.2 L1982.09,392.65 L1982.16,392.11 L1982.22,391.56 L1982.28,391.03 L1982.35,390.49 L1982.41,389.96 L1982.47,389.43 L1982.53,388.9 L1982.59,388.38 L1982.65,387.85 L1982.7,387.33 L1982.76,386.8 L1982.81,386.28 L1982.87,385.76 L1982.92,385.23 L1982.97,384.71 L1983.03,384.18 L1983.08,383.66 L1983.13,383.13 L1983.18,382.59 L1983.23,382.06 L1983.27,381.52 L1983.32,380.98 L1983.37,380.43 L1983.41,379.88 L1983.46,379.33 L1983.5,378.77 L1983.55,378.21 L1983.59,377.64 L1983.63,377.06 L1983.67,376.48 L1983.72,375.89 L1983.76,375.29 L1983.8,374.68 L1983.83,374.07 L1983.87,373.45 L1983.91,372.82 L1983.95,372.2 L1983.98,371.6 L1984.02,371.01 L1984.06,370.44 L1984.09,369.88 L1984.13,369.32 L1984.16,368.78 L1984.19,368.24 L1984.23,367.71 L1984.26,367.18 L1984.29,366.66 L1984.32,366.13 L1984.35,365.61 L1984.38,365.08 L1984.41,364.54 L1984.44,364.01 L1984.47,363.46 L1984.5,362.91 L1984.53,362.34 L1984.56,361.76 L1984.58,361.17 L1984.61,360.57 L1984.64,359.95 L1984.66,359.31 L1984.69,358.65 L1984.71,357.97 L1984.74,357.26 L1984.76,356.53 L1984.79,355.78 L1984.81,355 L1984.83,354.18 L1984.86,353.34 L1984.88,352.47 L1984.9,351.56 L1984.92,350.62 L1984.94,349.63 L1984.97,348.62 L1984.99,347.56 L1985.01,346.45 L1985.03,345.31 L1985.05,344.12 L1985.07,342.88 L1985.09,341.6 L1985.1,340.26 L1985.12,338.67 L1985.14,336.78 L1985.16,334.59 L1985.18,332.11 L1985.2,329.37 L1985.21,326.36 L1985.23,323.1 L1985.25,319.61 L1985.26,315.9 L1985.28,311.97 L1985.29,307.85 L1985.31,303.54 L1985.33,299.06 L1985.34,294.41 L1985.36,289.62 L1985.37,284.69 L1985.39,279.64 L1985.4,274.47 L1985.41,268.96 L1985.43,262.84 L1985.44,256.14 L1985.45,248.91 L1985.47,241.15 L1985.48,232.92 L1985.49,224.23 L1985.51,215.11 L1985.52,205.6 L1985.53,195.72 L1985.54,185.51 L1985.55,175 L1985.57,164.21 L1985.58,153.18 L1985.59,141.93 L1985.6,130.5" fill="none" stroke="#d7342a" stroke-width="3.5" stroke-linecap="round" stroke-linejoin="round"/>
<circle cx="1985.4" cy="274.3" r="7.9" fill="#3a53a4"/>
<text x="1635.3" y="155.2" font-size="31" textLength="177" lengthAdjust="spacingAndGlyphs">donor id: 60</text>
<text x="1678.1" y="230.6" font-size="28" textLength="217.5" lengthAdjust="spacingAndGlyphs">super-enhancers</text>
<text x="1670" y="369.5" font-size="30" textLength="124" lengthAdjust="spacingAndGlyphs">miR-140</text>
<line x1="1804.1" y1="351.4" x2="1943.39" y2="288.02" stroke="#000" stroke-width="1.7"/>
<polygon points="1957.5,281.6 1941.7,297.58 1942.94,288.23 1935.07,283.02" fill="#000"/>
<text x="1544" y="120" font-size="26.5" textLength="44.5" lengthAdjust="spacingAndGlyphs">x10</text>
<text x="1590" y="108.7" font-size="24.5">5</text>
<line x1="129.5" y1="556.4" x2="1952" y2="556.4" stroke="#000" stroke-width="3.2"/>
<polygon points="1976.1,556.4 1944.8,543.5 1951.3,556.4 1944.9,569" fill="#000"/>
<text x="705.5" y="601" font-size="31.6" textLength="557" lengthAdjust="spacingAndGlyphs">Enhancers ranked by H3K27Ac signal</text>
<line x1="49.7" y1="1085.4" x2="49.7" y2="715" stroke="#000" stroke-width="3.4"/>
<polygon points="49.7,693.8 37,724.8 49.8,717.9 62.4,724.5" fill="#000"/>
<text transform="translate(23.3,1080) rotate(-90)" font-size="31.6" textLength="369" lengthAdjust="spacingAndGlyphs">ChIP signal at enhancers</text>
<text x="146.5" y="683.6" font-size="30.8" textLength="304" lengthAdjust="spacingAndGlyphs">mouse chondrocytes</text>
<line x1="122.1" y1="713.7" x2="122.1" y2="1073.3" stroke="#231f20" stroke-width="2.2"/>
<line x1="121.1" y1="1072.3" x2="525.4" y2="1072.3" stroke="#231f20" stroke-width="2.4"/>
<line x1="108.6" y1="1059.1" x2="122.1" y2="1059.1" stroke="#231f20" stroke-width="2.2"/>
<text x="97.4" y="1065.5" font-size="22" text-anchor="end" textLength="13.03" lengthAdjust="spacingAndGlyphs">0</text>
<line x1="108.6" y1="973.8" x2="122.1" y2="973.8" stroke="#231f20" stroke-width="2.2"/>
<text x="97.4" y="981.2" font-size="22" text-anchor="end" textLength="32.57" lengthAdjust="spacingAndGlyphs">0.5</text>
<line x1="108.6" y1="888.5" x2="122.1" y2="888.5" stroke="#231f20" stroke-width="2.2"/>
<text x="97.4" y="891.3" font-size="22" text-anchor="end" textLength="13.03" lengthAdjust="spacingAndGlyphs">1</text>
<line x1="108.6" y1="803.2" x2="122.1" y2="803.2" stroke="#231f20" stroke-width="2.2"/>
<text x="97.4" y="810.5" font-size="22" text-anchor="end" textLength="32.57" lengthAdjust="spacingAndGlyphs">1.5</text>
<line x1="108.6" y1="717.9" x2="122.1" y2="717.9" stroke="#231f20" stroke-width="2.2"/>
<text x="97.4" y="730.9" font-size="22" text-anchor="end" textLength="13.03" lengthAdjust="spacingAndGlyphs">2</text>
<line x1="136.8" y1="1072.3" x2="136.8" y2="1086.3" stroke="#231f20" stroke-width="2.2"/>
<text x="136.9" y="1118.7" font-size="22" text-anchor="middle" textLength="13.03" lengthAdjust="spacingAndGlyphs">0</text>
<line x1="204.12" y1="1072.3" x2="204.12" y2="1086.3" stroke="#231f20" stroke-width="2.2"/>
<text x="204.2" y="1118.7" font-size="22" text-anchor="middle" textLength="52.12" lengthAdjust="spacingAndGlyphs">1000</text>
<line x1="271.44" y1="1072.3" x2="271.44" y2="1086.3" stroke="#231f20" stroke-width="2.2"/>
<text x="271.8" y="1118.7" font-size="22" text-anchor="middle" textLength="52.12" lengthAdjust="spacingAndGlyphs">2000</text>
<line x1="338.76" y1="1072.3" x2="338.76" y2="1086.3" stroke="#231f20" stroke-width="2.2"/>
<text x="336.4" y="1118.7" font-size="22" text-anchor="middle" textLength="52.12" lengthAdjust="spacingAndGlyphs">3000</text>
<line x1="406.08" y1="1072.3" x2="406.08" y2="1086.3" stroke="#231f20" stroke-width="2.2"/>
<text x="405.1" y="1118.7" font-size="22" text-anchor="middle" textLength="52.12" lengthAdjust="spacingAndGlyphs">4000</text>
<line x1="473.4" y1="1072.3" x2="473.4" y2="1086.3" stroke="#231f20" stroke-width="2.2"/>
<text x="473.2" y="1118.7" font-size="22" text-anchor="middle" textLength="52.12" lengthAdjust="spacingAndGlyphs">5000</text>
<line x1="485.6" y1="712.8" x2="485.6" y2="1072.3" stroke="#333" stroke-width="1.2" stroke-dasharray="8 15"/>
<line x1="123" y1="1032.9" x2="525.4" y2="1032.9" stroke="#000" stroke-width="1.6" stroke-dasharray="11 12.5" stroke-dashoffset="2"/>
<path d="M477.8,723.6 H436.3 V1020 H475" fill="none" stroke="#000" stroke-width="3"/>
<path d="M136.7,1059.4 L142.55,1059.32 L148.31,1059.24 L153.98,1059.16 L159.57,1059.08 L165.06,1059 L170.47,1058.93 L175.79,1058.85 L181.04,1058.77 L186.2,1058.7 L191.27,1058.62 L196.27,1058.54 L201.2,1058.47 L206.04,1058.4 L210.81,1058.32 L215.5,1058.25 L220.12,1058.18 L224.67,1058.11 L229.15,1058.04 L233.56,1057.98 L237.9,1057.91 L242.17,1057.85 L246.37,1057.78 L250.51,1057.72 L254.59,1057.65 L258.6,1057.59 L262.54,1057.53 L266.43,1057.46 L270.26,1057.39 L274.02,1057.33 L277.73,1057.26 L281.38,1057.18 L284.97,1057.11 L288.51,1057.04 L291.99,1056.96 L295.41,1056.88 L298.78,1056.8 L302.1,1056.71 L305.37,1056.63 L308.59,1056.54 L311.76,1056.45 L314.87,1056.36 L317.94,1056.27 L320.96,1056.18 L323.94,1056.08 L326.86,1055.98 L329.75,1055.89 L332.58,1055.79 L335.37,1055.69 L338.12,1055.59 L340.83,1055.48 L343.49,1055.38 L346.11,1055.27 L348.69,1055.17 L351.23,1055.06 L353.73,1054.95 L356.2,1054.84 L358.62,1054.73 L361,1054.62 L363.35,1054.51 L365.66,1054.39 L367.94,1054.28 L370.18,1054.16 L372.38,1054.04 L374.55,1053.93 L376.69,1053.81 L378.79,1053.69 L380.86,1053.57 L382.9,1053.45 L384.91,1053.32 L386.88,1053.2 L388.82,1053.08 L390.74,1052.96 L392.62,1052.83 L394.47,1052.7 L396.3,1052.58 L398.1,1052.45 L399.87,1052.32 L401.61,1052.19 L403.32,1052.06 L405.01,1051.92 L406.67,1051.79 L408.3,1051.65 L409.91,1051.51 L411.49,1051.37 L413.05,1051.23 L414.59,1051.09 L416.1,1050.94 L417.59,1050.79 L419.05,1050.64 L420.49,1050.49 L421.91,1050.34 L423.31,1050.18 L424.68,1050.02 L426.04,1049.86 L427.37,1049.7 L428.68,1049.53 L429.97,1049.36 L431.24,1049.19 L432.49,1049.02 L433.72,1048.84 L434.93,1048.66 L436.13,1048.48 L437.3,1048.3 L438.46,1048.11 L439.6,1047.91 L440.72,1047.7 L441.82,1047.49 L442.9,1047.26 L443.97,1047.03 L445.02,1046.79 L446.06,1046.55 L447.08,1046.3 L448.08,1046.04 L449.07,1045.78 L450.04,1045.52 L451,1045.26 L451.94,1044.99 L452.87,1044.72 L453.78,1044.45 L454.68,1044.17 L455.56,1043.9 L456.43,1043.63 L457.29,1043.36 L458.14,1043.09 L458.97,1042.83 L459.78,1042.56 L460.59,1042.3 L461.38,1042.05 L462.16,1041.79 L462.93,1041.54 L463.68,1041.29 L464.43,1041.04 L465.16,1040.78 L465.88,1040.53 L466.59,1040.28 L467.29,1040.03 L467.98,1039.78 L468.65,1039.53 L469.32,1039.28 L469.98,1039.02 L470.62,1038.77 L471.26,1038.52 L471.88,1038.26 L472.5,1038 L473.1,1037.74 L473.7,1037.48 L474.29,1037.21 L474.87,1036.95 L475.44,1036.68 L476,1036.4 L476.55,1036.13 L477.09,1035.85 L477.62,1035.56 L478.15,1035.28 L478.67,1034.99 L479.18,1034.69 L479.68,1034.39 L480.17,1034.09 L480.66,1033.78 L481.14,1033.46 L481.61,1033.14 L482.07,1032.82 L482.53,1032.49 L482.98,1032.16 L483.42,1031.82 L483.86,1031.48 L484.29,1031.14 L484.71,1030.79 L485.12,1030.44 L485.53,1030.09 L485.94,1029.74 L486.33,1029.38 L486.72,1029.02 L487.11,1028.66 L487.48,1028.3 L487.86,1027.93 L488.22,1027.57 L488.58,1027.2 L488.94,1026.84 L489.29,1026.47 L489.63,1026.1 L489.97,1025.74 L490.3,1025.37 L490.63,1025 L490.95,1024.64 L491.27,1024.27 L491.58,1023.91 L491.89,1023.54 L492.2,1023.17 L492.49,1022.8 L492.79,1022.43 L493.08,1022.06 L493.36,1021.68 L493.64,1021.31 L493.92,1020.93 L494.19,1020.56 L494.46,1020.18 L494.72,1019.8 L494.98,1019.42 L495.23,1019.03 L495.48,1018.65 L495.73,1018.26 L495.98,1017.87 L496.21,1017.48 L496.45,1017.09 L496.68,1016.7 L496.91,1016.3 L497.14,1015.91 L497.36,1015.51 L497.57,1015.11 L497.79,1014.7 L498,1014.3 L498.21,1013.89 L498.41,1013.48 L498.61,1013.07 L498.81,1012.65 L499.01,1012.24 L499.2,1011.83 L499.39,1011.41 L499.57,1011 L499.76,1010.58 L499.94,1010.16 L500.12,1009.75 L500.29,1009.33 L500.46,1008.9 L500.63,1008.48 L500.8,1008.05 L500.96,1007.63 L501.12,1007.2 L501.28,1006.76 L501.44,1006.33 L501.59,1005.89 L501.74,1005.45 L501.89,1005 L502.04,1004.56 L502.19,1004.11 L502.33,1003.65 L502.47,1003.2 L502.61,1002.74 L502.74,1002.27 L502.88,1001.8 L503.01,1001.33 L503.14,1000.85 L503.26,1000.37 L503.39,999.88 L503.51,999.39 L503.63,998.89 L503.75,998.39 L503.87,997.89 L503.99,997.37 L504.1,996.86 L504.22,996.33 L504.33,995.8 L504.43,995.27 L504.54,994.73 L504.65,994.19 L504.75,993.64 L504.85,993.08 L504.95,992.52 L505.05,991.96 L505.15,991.39 L505.25,990.82 L505.34,990.24 L505.44,989.66 L505.53,989.07 L505.62,988.47 L505.71,987.88 L505.79,987.28 L505.88,986.67 L505.96,986.06 L506.05,985.45 L506.13,984.83 L506.21,984.21 L506.29,983.58 L506.37,982.95 L506.44,982.31 L506.52,981.68 L506.6,981.03 L506.67,980.39 L506.74,979.74 L506.81,979.09 L506.88,978.42 L506.95,977.75 L507.02,977.06 L507.09,976.36 L507.15,975.65 L507.22,974.93 L507.28,974.21 L507.34,973.47 L507.41,972.73 L507.47,971.99 L507.53,971.24 L507.59,970.48 L507.64,969.72 L507.7,968.96 L507.76,968.2 L507.81,967.44 L507.87,966.68 L507.92,965.92 L507.97,965.16 L508.02,964.41 L508.08,963.66 L508.13,962.91 L508.18,962.17 L508.22,961.44 L508.27,960.71 L508.32,960 L508.37,959.3 L508.41,958.62 L508.46,957.96 L508.5,957.31 L508.55,956.68 L508.59,956.06 L508.63,955.44 L508.67,954.84 L508.71,954.24 L508.75,953.64 L508.79,953.05 L508.83,952.46 L508.87,951.86 L508.91,951.26 L508.95,950.65 L508.98,950.04 L509.02,949.42 L509.06,948.78 L509.09,948.13 L509.13,947.47 L509.16,946.79 L509.19,946.09 L509.23,945.37 L509.26,944.63 L509.29,943.86 L509.32,943.06 L509.35,942.24 L509.38,941.38 L509.41,940.49 L509.44,939.57 L509.47,938.61 L509.5,937.62 L509.53,936.58 L509.56,935.49 L509.58,934.36 L509.61,933.17 L509.64,931.94 L509.66,930.66 L509.69,929.33 L509.71,927.94 L509.74,926.51 L509.76,925.02 L509.79,923.48 L509.81,921.89 L509.83,920.25 L509.86,918.55 L509.88,916.79 L509.9,914.98 L509.92,913.12 L509.94,911.19 L509.97,909.22 L509.99,907.18 L510.01,905.08 L510.03,902.93 L510.05,900.72 L510.07,898.44 L510.09,896.11 L510.1,893.72 L510.12,891.26 L510.14,888.74 L510.16,886.16 L510.18,883.52 L510.19,880.81 L510.21,877.99 L510.23,874.95 L510.25,871.67 L510.26,868.16 L510.28,864.43 L510.29,860.5 L510.31,856.35 L510.33,852.01 L510.34,847.47 L510.36,842.75 L510.37,837.85 L510.39,832.78 L510.4,827.54 L510.41,822.14 L510.43,816.58 L510.44,810.88 L510.45,805.04 L510.47,799.07 L510.48,792.97 L510.49,786.76 L510.51,780.43 L510.52,773.99 L510.53,767.45 L510.54,760.82 L510.55,754.1 L510.57,747.31 L510.58,740.43 L510.59,733.5 L510.6,726.5" fill="none" stroke="#d7342a" stroke-width="3.5" stroke-linecap="round" stroke-linejoin="round"/>
<circle cx="510.2" cy="772.1" r="7.9" fill="#3a53a4"/>
<text x="134.9" y="766.9" font-size="31" textLength="286" lengthAdjust="spacingAndGlyphs">H3K27Ac ChIP-seq</text>
<text x="202.1" y="834.1" font-size="30" textLength="123" lengthAdjust="spacingAndGlyphs">miR-140</text>
<text x="202.1" y="993.4" font-size="28" textLength="217" lengthAdjust="spacingAndGlyphs">super-enhancers</text>
<line x1="335.5" y1="820" x2="474.57" y2="781.26" stroke="#000" stroke-width="1.7"/>
<polygon points="489.5,777.1 471.42,790.44 474.09,781.39 467.12,775.03" fill="#000"/>
<text x="65.3" y="704" font-size="26.5" textLength="44.5" lengthAdjust="spacingAndGlyphs">x10</text>
<text x="111.3" y="692.7" font-size="24.5">5</text>
<line x1="614.1" y1="713.7" x2="614.1" y2="1073.3" stroke="#231f20" stroke-width="2.2"/>
<line x1="613.1" y1="1072.3" x2="1016.8" y2="1072.3" stroke="#231f20" stroke-width="2.4"/>
<line x1="600.6" y1="1059.1" x2="614.1" y2="1059.1" stroke="#231f20" stroke-width="2.2"/>
<text x="591.3" y="1063.1" font-size="22" text-anchor="end" textLength="13.03" lengthAdjust="spacingAndGlyphs">0</text>
<line x1="600.6" y1="991.14" x2="614.1" y2="991.14" stroke="#231f20" stroke-width="2.2"/>
<text x="591.3" y="996.7" font-size="22" text-anchor="end" textLength="32.57" lengthAdjust="spacingAndGlyphs">0.2</text>
<line x1="600.6" y1="923.18" x2="614.1" y2="923.18" stroke="#231f20" stroke-width="2.2"/>
<text x="591.3" y="930.4" font-size="22" text-anchor="end" textLength="32.57" lengthAdjust="spacingAndGlyphs">0.4</text>
<line x1="600.6" y1="855.22" x2="614.1" y2="855.22" stroke="#231f20" stroke-width="2.2"/>
<text x="591.3" y="862.1" font-size="22" text-anchor="end" textLength="32.57" lengthAdjust="spacingAndGlyphs">0.6</text>
<line x1="600.6" y1="787.26" x2="614.1" y2="787.26" stroke="#231f20" stroke-width="2.2"/>
<text x="591.3" y="797.6" font-size="22" text-anchor="end" textLength="32.57" lengthAdjust="spacingAndGlyphs">0.8</text>
<line x1="600.6" y1="719.3" x2="614.1" y2="719.3" stroke="#231f20" stroke-width="2.2"/>
<text x="591.3" y="732.2" font-size="22" text-anchor="end" textLength="32.57" lengthAdjust="spacingAndGlyphs">1.0</text>
<line x1="629" y1="1072.3" x2="629" y2="1086.3" stroke="#231f20" stroke-width="2.2"/>
<text x="630" y="1118.6" font-size="22" text-anchor="middle" textLength="13.03" lengthAdjust="spacingAndGlyphs">0</text>
<line x1="722.08" y1="1072.3" x2="722.08" y2="1086.3" stroke="#231f20" stroke-width="2.2"/>
<text x="716.9" y="1118.6" font-size="22" text-anchor="middle" textLength="52.12" lengthAdjust="spacingAndGlyphs">5000</text>
<line x1="815.16" y1="1072.3" x2="815.16" y2="1086.3" stroke="#231f20" stroke-width="2.2"/>
<text x="806.8" y="1118.6" font-size="22" text-anchor="middle" textLength="65.15" lengthAdjust="spacingAndGlyphs">10000</text>
<line x1="908.24" y1="1072.3" x2="908.24" y2="1086.3" stroke="#231f20" stroke-width="2.2"/>
<text x="896.5" y="1118.6" font-size="22" text-anchor="middle" textLength="65.15" lengthAdjust="spacingAndGlyphs">15000</text>
<line x1="1001.32" y1="1072.3" x2="1001.32" y2="1086.3" stroke="#231f20" stroke-width="2.2"/>
<text x="993.7" y="1118.6" font-size="22" text-anchor="middle" textLength="65.15" lengthAdjust="spacingAndGlyphs">20000</text>
<line x1="980.9" y1="712.8" x2="980.9" y2="1072.3" stroke="#666" stroke-width="1.4" stroke-dasharray="8 15"/>
<line x1="615" y1="1032.9" x2="1016.8" y2="1032.9" stroke="#000" stroke-width="1.6" stroke-dasharray="11 12.5" stroke-dashoffset="2"/>
<path d="M967.1,723.6 H925.5 V1020 H964.6" fill="none" stroke="#000" stroke-width="3"/>
<path d="M628.7,1059.4 L634.53,1059.33 L640.27,1059.26 L645.92,1059.19 L651.49,1059.12 L656.96,1059.05 L662.36,1058.97 L667.66,1058.9 L672.89,1058.82 L678.03,1058.74 L683.09,1058.66 L688.07,1058.58 L692.98,1058.5 L697.81,1058.42 L702.56,1058.33 L707.24,1058.25 L711.84,1058.16 L716.38,1058.07 L720.84,1057.98 L725.24,1057.88 L729.56,1057.79 L733.82,1057.69 L738.01,1057.6 L742.13,1057.5 L746.19,1057.4 L750.19,1057.3 L754.13,1057.2 L758,1057.1 L761.81,1057 L765.57,1056.89 L769.26,1056.79 L772.9,1056.69 L776.48,1056.59 L780.01,1056.49 L783.48,1056.39 L786.89,1056.29 L790.25,1056.19 L793.56,1056.09 L796.82,1055.99 L800.03,1055.89 L803.18,1055.8 L806.29,1055.7 L809.35,1055.6 L812.36,1055.51 L815.33,1055.41 L818.24,1055.31 L821.12,1055.21 L823.94,1055.12 L826.73,1055.02 L829.47,1054.92 L832.17,1054.82 L834.82,1054.72 L837.43,1054.62 L840.01,1054.52 L842.54,1054.42 L845.03,1054.32 L847.49,1054.22 L849.9,1054.11 L852.28,1054.01 L854.62,1053.9 L856.93,1053.8 L859.19,1053.69 L861.43,1053.58 L863.63,1053.47 L865.79,1053.36 L867.92,1053.25 L870.02,1053.13 L872.08,1053.02 L874.11,1052.9 L876.11,1052.79 L878.08,1052.68 L880.02,1052.56 L881.93,1052.44 L883.81,1052.33 L885.65,1052.21 L887.47,1052.09 L889.27,1051.98 L891.03,1051.86 L892.77,1051.74 L894.47,1051.62 L896.16,1051.49 L897.81,1051.37 L899.44,1051.25 L901.05,1051.12 L902.63,1051 L904.18,1050.87 L905.71,1050.74 L907.22,1050.61 L908.7,1050.48 L910.16,1050.35 L911.6,1050.21 L913.01,1050.08 L914.41,1049.94 L915.78,1049.8 L917.13,1049.66 L918.45,1049.52 L919.76,1049.37 L921.05,1049.23 L922.32,1049.08 L923.56,1048.93 L924.79,1048.78 L926,1048.62 L927.19,1048.46 L928.36,1048.3 L929.52,1048.14 L930.65,1047.98 L931.77,1047.81 L932.87,1047.63 L933.95,1047.45 L935.02,1047.27 L936.06,1047.08 L937.1,1046.88 L938.11,1046.68 L939.11,1046.48 L940.1,1046.27 L941.07,1046.06 L942.02,1045.84 L942.96,1045.62 L943.89,1045.4 L944.8,1045.18 L945.7,1044.95 L946.58,1044.72 L947.45,1044.49 L948.3,1044.26 L949.14,1044.02 L949.97,1043.79 L950.79,1043.55 L951.59,1043.32 L952.38,1043.08 L953.16,1042.84 L953.92,1042.61 L954.68,1042.37 L955.42,1042.14 L956.15,1041.9 L956.87,1041.67 L957.58,1041.44 L958.27,1041.21 L958.96,1040.98 L959.64,1040.76 L960.3,1040.53 L960.95,1040.32 L961.6,1040.1 L962.23,1039.88 L962.86,1039.67 L963.47,1039.45 L964.08,1039.24 L964.67,1039.02 L965.26,1038.81 L965.83,1038.6 L966.4,1038.39 L966.96,1038.17 L967.51,1037.96 L968.05,1037.75 L968.59,1037.54 L969.11,1037.32 L969.63,1037.11 L970.14,1036.9 L970.64,1036.68 L971.13,1036.47 L971.61,1036.25 L972.09,1036.04 L972.56,1035.82 L973.03,1035.6 L973.48,1035.38 L973.93,1035.16 L974.37,1034.94 L974.81,1034.72 L975.23,1034.5 L975.65,1034.27 L976.07,1034.04 L976.48,1033.81 L976.88,1033.58 L977.27,1033.35 L977.66,1033.13 L978.05,1032.9 L978.42,1032.67 L978.79,1032.44 L979.16,1032.21 L979.52,1031.98 L979.87,1031.75 L980.22,1031.52 L980.57,1031.29 L980.9,1031.05 L981.24,1030.82 L981.56,1030.58 L981.89,1030.34 L982.2,1030.1 L982.52,1029.86 L982.82,1029.61 L983.13,1029.36 L983.42,1029.11 L983.72,1028.85 L984,1028.59 L984.29,1028.33 L984.57,1028.06 L984.84,1027.79 L985.11,1027.52 L985.38,1027.24 L985.64,1026.95 L985.9,1026.66 L986.16,1026.37 L986.41,1026.07 L986.65,1025.76 L986.9,1025.46 L987.14,1025.14 L987.37,1024.83 L987.6,1024.51 L987.83,1024.18 L988.06,1023.85 L988.28,1023.52 L988.49,1023.18 L988.71,1022.84 L988.92,1022.5 L989.13,1022.15 L989.33,1021.8 L989.53,1021.45 L989.73,1021.1 L989.92,1020.74 L990.12,1020.38 L990.3,1020.01 L990.49,1019.65 L990.67,1019.28 L990.85,1018.91 L991.03,1018.54 L991.2,1018.16 L991.38,1017.79 L991.54,1017.41 L991.71,1017.03 L991.87,1016.65 L992.04,1016.27 L992.19,1015.89 L992.35,1015.51 L992.5,1015.12 L992.66,1014.74 L992.81,1014.35 L992.95,1013.97 L993.1,1013.58 L993.24,1013.19 L993.38,1012.81 L993.52,1012.42 L993.65,1012.03 L993.79,1011.64 L993.92,1011.25 L994.05,1010.86 L994.17,1010.46 L994.3,1010.07 L994.42,1009.67 L994.54,1009.27 L994.66,1008.87 L994.78,1008.47 L994.9,1008.06 L995.01,1007.66 L995.12,1007.25 L995.23,1006.84 L995.34,1006.43 L995.45,1006.02 L995.55,1005.6 L995.66,1005.18 L995.76,1004.76 L995.86,1004.34 L995.96,1003.91 L996.06,1003.48 L996.15,1003.05 L996.25,1002.62 L996.34,1002.18 L996.43,1001.74 L996.52,1001.3 L996.61,1000.86 L996.7,1000.41 L996.78,999.96 L996.87,999.51 L996.95,999.05 L997.03,998.59 L997.11,998.12 L997.19,997.66 L997.27,997.19 L997.35,996.71 L997.42,996.23 L997.5,995.75 L997.57,995.27 L997.65,994.78 L997.72,994.29 L997.79,993.79 L997.86,993.29 L997.92,992.79 L997.99,992.28 L998.06,991.77 L998.12,991.25 L998.18,990.73 L998.25,990.21 L998.31,989.68 L998.37,989.15 L998.43,988.62 L998.49,988.08 L998.55,987.54 L998.6,987 L998.66,986.45 L998.71,985.89 L998.77,985.34 L998.82,984.78 L998.88,984.21 L998.93,983.64 L998.98,983.07 L999.03,982.49 L999.08,981.91 L999.13,981.33 L999.17,980.74 L999.22,980.14 L999.27,979.55 L999.31,978.94 L999.36,978.34 L999.4,977.73 L999.45,977.11 L999.49,976.5 L999.53,975.87 L999.57,975.25 L999.62,974.62 L999.66,973.98 L999.7,973.34 L999.73,972.7 L999.77,972.05 L999.81,971.39 L999.85,970.74 L999.88,970.07 L999.92,969.41 L999.96,968.74 L999.99,968.06 L1000.03,967.39 L1000.06,966.74 L1000.09,966.11 L1000.13,965.5 L1000.16,964.89 L1000.19,964.3 L1000.22,963.71 L1000.25,963.13 L1000.28,962.54 L1000.31,961.95 L1000.34,961.35 L1000.37,960.73 L1000.4,960.11 L1000.43,959.46 L1000.46,958.79 L1000.48,958.1 L1000.51,957.37 L1000.54,956.62 L1000.56,955.82 L1000.59,954.99 L1000.61,954.11 L1000.64,953.19 L1000.66,952.22 L1000.69,951.19 L1000.71,950.11 L1000.73,948.97 L1000.76,947.76 L1000.78,946.49 L1000.8,945.14 L1000.82,943.51 L1000.84,941.43 L1000.87,938.93 L1000.89,936.04 L1000.91,932.79 L1000.93,929.21 L1000.95,925.34 L1000.97,921.19 L1000.99,916.8 L1001,912.21 L1001.02,907.43 L1001.04,902.5 L1001.06,897.45 L1001.08,892.3 L1001.1,887.1 L1001.11,881.86 L1001.13,876.62 L1001.15,871.41 L1001.16,866.26 L1001.18,861.19 L1001.19,856.24 L1001.21,851.38 L1001.23,846.46 L1001.24,841.46 L1001.26,836.38 L1001.27,831.23 L1001.29,826 L1001.3,820.7 L1001.31,815.33 L1001.33,809.89 L1001.34,804.38 L1001.35,798.8 L1001.37,793.15 L1001.38,787.43 L1001.39,781.65 L1001.41,775.8 L1001.42,769.89 L1001.43,763.92 L1001.44,757.88 L1001.45,751.78 L1001.47,745.62 L1001.48,739.41 L1001.49,733.13 L1001.5,726.8" fill="none" stroke="#d7342a" stroke-width="3.5" stroke-linecap="round" stroke-linejoin="round"/>
<circle cx="1001.2" cy="854.6" r="7.9" fill="#3a53a4"/>
<circle cx="1001" cy="927" r="7.9" fill="#3a53a4"/>
<text x="627.1" y="766.9" font-size="31" textLength="222" lengthAdjust="spacingAndGlyphs">Sox9 ChIP-seq</text>
<text x="685" y="906.6" font-size="30" textLength="123" lengthAdjust="spacingAndGlyphs">miR-140</text>
<text x="692.9" y="993.4" font-size="28" textLength="217" lengthAdjust="spacingAndGlyphs">super-enhancers</text>
<line x1="821" y1="896.3" x2="959.5" y2="856.76" stroke="#000" stroke-width="1.7"/>
<polygon points="974.4,852.5 956.4,865.96 959.01,856.89 952.01,850.57" fill="#000"/>
<line x1="821" y1="896.3" x2="954.72" y2="919.19" stroke="#000" stroke-width="1.7"/>
<polygon points="970,921.8 947.95,926.14 954.23,919.1 950.65,910.37" fill="#000"/>
<text x="559" y="704" font-size="26.5" textLength="44.5" lengthAdjust="spacingAndGlyphs">x10</text>
<text x="605" y="692.7" font-size="24.5">5</text>
<line x1="84.2" y1="1145.3" x2="992" y2="1145.3" stroke="#000" stroke-width="3.2"/>
<polygon points="1015.3,1145.3 984.3,1132.6 990.8,1145.3 984.3,1158" fill="#000"/>
<text x="316" y="1196.5" font-size="31.6" textLength="490" lengthAdjust="spacingAndGlyphs">Enhancers ranked by ChIP signal</text>
<text x="1.5" y="1277" font-size="49" font-weight="bold">b</text>
<line x1="65.8" y1="1252" x2="1213.2" y2="1252" stroke="#000" stroke-width="4"/>
<line x1="65.8" y1="1296.5" x2="1213.2" y2="1296.5" stroke="#000" stroke-width="4"/>
<line x1="65.8" y1="1341.5" x2="1213.2" y2="1341.5" stroke="#000" stroke-width="4"/>
<line x1="65.8" y1="1386.8" x2="1213.2" y2="1386.8" stroke="#000" stroke-width="4"/>
<line x1="65.8" y1="1431.4" x2="1213.2" y2="1431.4" stroke="#000" stroke-width="4"/>
<line x1="65.8" y1="1476.7" x2="1213.2" y2="1476.7" stroke="#000" stroke-width="4"/>
<line x1="65.8" y1="1522" x2="1213.2" y2="1522" stroke="#000" stroke-width="4"/>
<line x1="65.8" y1="1566.3" x2="1213.2" y2="1566.3" stroke="#000" stroke-width="4"/>
<line x1="65.8" y1="1611.9" x2="1213.2" y2="1611.9" stroke="#000" stroke-width="4"/>
<line x1="65.8" y1="1656.2" x2="1213.2" y2="1656.2" stroke="#000" stroke-width="4"/>
<line x1="67.6" y1="1252" x2="67.6" y2="1656.2" stroke="#000" stroke-width="3.6"/>
<line x1="1211.4" y1="1252" x2="1211.4" y2="1656.2" stroke="#000" stroke-width="3.6"/>
<line x1="434.6" y1="1252" x2="434.6" y2="1296.5" stroke="#000" stroke-width="3.6"/>
<line x1="629.5" y1="1252" x2="629.5" y2="1296.5" stroke="#000" stroke-width="3.6"/>
<line x1="1019.5" y1="1252" x2="1019.5" y2="1296.5" stroke="#000" stroke-width="3.6"/>
<line x1="434.6" y1="1341.5" x2="434.6" y2="1386.8" stroke="#000" stroke-width="3.6"/>
<line x1="629.5" y1="1341.5" x2="629.5" y2="1386.8" stroke="#000" stroke-width="3.6"/>
<line x1="1019.5" y1="1341.5" x2="1019.5" y2="1386.8" stroke="#000" stroke-width="3.6"/>
<line x1="434.6" y1="1386.8" x2="434.6" y2="1431.4" stroke="#000" stroke-width="3.6"/>
<line x1="629.5" y1="1386.8" x2="629.5" y2="1431.4" stroke="#000" stroke-width="3.6"/>
<line x1="1019.5" y1="1386.8" x2="1019.5" y2="1431.4" stroke="#000" stroke-width="3.6"/>
<line x1="434.6" y1="1431.4" x2="434.6" y2="1476.7" stroke="#000" stroke-width="3.6"/>
<line x1="629.5" y1="1431.4" x2="629.5" y2="1476.7" stroke="#000" stroke-width="3.6"/>
<line x1="1019.5" y1="1431.4" x2="1019.5" y2="1476.7" stroke="#000" stroke-width="3.6"/>
<line x1="434.6" y1="1476.7" x2="434.6" y2="1522" stroke="#000" stroke-width="3.6"/>
<line x1="629.5" y1="1476.7" x2="629.5" y2="1522" stroke="#000" stroke-width="3.6"/>
<line x1="1019.5" y1="1476.7" x2="1019.5" y2="1522" stroke="#000" stroke-width="3.6"/>
<line x1="434.6" y1="1566.3" x2="434.6" y2="1611.9" stroke="#000" stroke-width="3.6"/>
<line x1="629.5" y1="1566.3" x2="629.5" y2="1611.9" stroke="#000" stroke-width="3.6"/>
<line x1="1019.5" y1="1566.3" x2="1019.5" y2="1611.9" stroke="#000" stroke-width="3.6"/>
<line x1="434.6" y1="1611.9" x2="434.6" y2="1656.2" stroke="#000" stroke-width="3.6"/>
<line x1="629.5" y1="1611.9" x2="629.5" y2="1656.2" stroke="#000" stroke-width="3.6"/>
<line x1="1019.5" y1="1611.9" x2="1019.5" y2="1656.2" stroke="#000" stroke-width="3.6"/>
<text x="73.3" y="1283.9" font-size="29.5" textLength="111.49" lengthAdjust="spacingAndGlyphs">samples</text>
<text x="532.05" y="1283.9" font-size="29.5" text-anchor="middle" textLength="149.79" lengthAdjust="spacingAndGlyphs">SE number</text>
<text x="824.5" y="1283.9" font-size="29.5" text-anchor="middle" textLength="312.89" lengthAdjust="spacingAndGlyphs">miR-140 enhancer rank</text>
<text x="1115.45" y="1283.9" font-size="29.5" text-anchor="middle" textLength="169.74" lengthAdjust="spacingAndGlyphs">classification</text>
<text x="73.3" y="1328.9" font-size="29.5" textLength="550.87" lengthAdjust="spacingAndGlyphs">human chondrocyte, H3K27Ac, ENCODE</text>
<text x="73.3" y="1374.2" font-size="29.5" textLength="241.34" lengthAdjust="spacingAndGlyphs">donor id: 57 (D57)</text>
<text x="532.05" y="1374.2" font-size="29.5" text-anchor="middle" textLength="49.96" lengthAdjust="spacingAndGlyphs">825</text>
<text x="824.5" y="1374.2" font-size="29.5" text-anchor="middle" textLength="149.86" lengthAdjust="spacingAndGlyphs">1728, 3947</text>
<text x="1115.45" y="1374.2" font-size="29.5" text-anchor="middle" textLength="88.2" lengthAdjust="spacingAndGlyphs">top TE</text>
<text x="73.3" y="1418.8" font-size="29.5" textLength="241.34" lengthAdjust="spacingAndGlyphs">donor id: 58 (D58)</text>
<text x="532.05" y="1418.8" font-size="29.5" text-anchor="middle" textLength="49.96" lengthAdjust="spacingAndGlyphs">979</text>
<text x="824.5" y="1418.8" font-size="29.5" text-anchor="middle" textLength="33.31" lengthAdjust="spacingAndGlyphs">81</text>
<text x="1115.45" y="1418.8" font-size="29.5" text-anchor="middle" textLength="39.94" lengthAdjust="spacingAndGlyphs">SE</text>
<text x="73.3" y="1464.1" font-size="29.5" textLength="241.34" lengthAdjust="spacingAndGlyphs">donor id: 59 (D59)</text>
<text x="532.05" y="1464.1" font-size="29.5" text-anchor="middle" textLength="66.61" lengthAdjust="spacingAndGlyphs">1060</text>
<text x="824.5" y="1464.1" font-size="29.5" text-anchor="middle" textLength="33.31" lengthAdjust="spacingAndGlyphs">66</text>
<text x="1115.45" y="1464.1" font-size="29.5" text-anchor="middle" textLength="39.94" lengthAdjust="spacingAndGlyphs">SE</text>
<text x="73.3" y="1509.4" font-size="29.5" textLength="241.34" lengthAdjust="spacingAndGlyphs">donor id: 60 (D60)</text>
<text x="532.05" y="1509.4" font-size="29.5" text-anchor="middle" textLength="66.61" lengthAdjust="spacingAndGlyphs">1162</text>
<text x="824.5" y="1509.4" font-size="29.5" text-anchor="middle" textLength="33.31" lengthAdjust="spacingAndGlyphs">12</text>
<text x="1115.45" y="1509.4" font-size="29.5" text-anchor="middle" textLength="39.94" lengthAdjust="spacingAndGlyphs">SE</text>
<text x="73.3" y="1553.7" font-size="29.5" textLength="261.31" lengthAdjust="spacingAndGlyphs">mouse chondrocyte</text>
<text x="73.3" y="1599.3" font-size="29.5" textLength="126.5" lengthAdjust="spacingAndGlyphs">H3K27Ac</text>
<text x="532.05" y="1599.3" font-size="29.5" text-anchor="middle" textLength="49.96" lengthAdjust="spacingAndGlyphs">365</text>
<text x="824.5" y="1599.3" font-size="29.5" text-anchor="middle" textLength="16.65" lengthAdjust="spacingAndGlyphs">3</text>
<text x="1115.45" y="1599.3" font-size="29.5" text-anchor="middle" textLength="39.94" lengthAdjust="spacingAndGlyphs">SE</text>
<text x="73.3" y="1643.6" font-size="29.5" textLength="68.25" lengthAdjust="spacingAndGlyphs">Sox9</text>
<text x="532.05" y="1643.6" font-size="29.5" text-anchor="middle" textLength="66.61" lengthAdjust="spacingAndGlyphs">1112</text>
<text x="824.5" y="1643.6" font-size="29.5" text-anchor="middle" textLength="83.25" lengthAdjust="spacingAndGlyphs">10, 28</text>
<text x="1115.45" y="1643.6" font-size="29.5" text-anchor="middle" textLength="39.94" lengthAdjust="spacingAndGlyphs">SE</text>
<text x="0" y="1720" font-size="52.5" font-weight="bold">c</text>
<rect x="101" y="1758.5" width="966" height="430" fill="#f8f8f9"/>
<rect x="165.5" y="2220.3" width="901" height="43" fill="#f6f6f8"/>
<text x="984" y="1737.3" font-size="28.3">50kb</text>
<rect x="824.9" y="1748.1" width="240" height="7.6" fill="#111"/>
<rect x="589.5" y="1765.2" width="262.4" height="12.1" fill="#111"/>
<rect x="926.3" y="1765.2" width="55.5" height="12.1" fill="#111"/>
<text x="806.5" y="1804.1" font-size="28" textLength="117.5" lengthAdjust="spacingAndGlyphs">enhancer</text>
<line x1="102.2" y1="1768" x2="102.2" y2="1867.7" stroke="#111" stroke-width="2.3"/>
<line x1="91.8" y1="1769.1" x2="103.3" y2="1769.1" stroke="#111" stroke-width="2.3"/>
<text x="88.2" y="1773.7" font-size="24.5" text-anchor="end">6</text>
<text x="-1.3" y="1827.2" font-size="26.6">D57</text>
<text transform="translate(89.9,1854.4) rotate(-90)" font-size="24" textLength="72.4" lengthAdjust="spacingAndGlyphs">rpm/bp</text>
<text x="123.5" y="1811" font-size="27.5" textLength="119" lengthAdjust="spacingAndGlyphs">H3K27Ac</text>
<line x1="101.9" y1="1875.3" x2="101.9" y2="1974.3" stroke="#111" stroke-width="2.3"/>
<line x1="91.7" y1="1876.4" x2="103" y2="1876.4" stroke="#111" stroke-width="2.3"/>
<text x="90" y="1880.7" font-size="24.5" text-anchor="end">10</text>
<text x="-1.3" y="1923.6" font-size="26.6">D58</text>
<text transform="translate(89.6,1961.5) rotate(-90)" font-size="24" textLength="72.3" lengthAdjust="spacingAndGlyphs">rpm/bp</text>
<text x="123.5" y="1918.2" font-size="27.5" textLength="119" lengthAdjust="spacingAndGlyphs">H3K27Ac</text>
<line x1="100.9" y1="1982.4" x2="100.9" y2="2082.4" stroke="#111" stroke-width="2.3"/>
<line x1="90.2" y1="1983.5" x2="102" y2="1983.5" stroke="#111" stroke-width="2.3"/>
<text x="87.3" y="1987.7" font-size="24.5" text-anchor="end">11</text>
<text x="-1.3" y="2037.2" font-size="26.6">D59</text>
<text transform="translate(89,2069.4) rotate(-90)" font-size="24" textLength="72.3" lengthAdjust="spacingAndGlyphs">rpm/bp</text>
<text x="123.5" y="2025.5" font-size="27.5" textLength="119" lengthAdjust="spacingAndGlyphs">H3K27Ac</text>
<line x1="99.3" y1="2090.3" x2="99.3" y2="2188.5" stroke="#111" stroke-width="2.3"/>
<line x1="89.2" y1="2091.4" x2="100.4" y2="2091.4" stroke="#111" stroke-width="2.3"/>
<text x="89.6" y="2096.1" font-size="24.5" text-anchor="end">16</text>
<text x="-1.3" y="2144" font-size="26.6">D60</text>
<text transform="translate(87.5,2180.7) rotate(-90)" font-size="24" textLength="75" lengthAdjust="spacingAndGlyphs">rpm/bp</text>
<text x="123.5" y="2133.3" font-size="27.5" textLength="119" lengthAdjust="spacingAndGlyphs">H3K27Ac</text>
<path d="M104.88,1864.3V1861.75H108.94V1864.3ZM130.04,1864.3V1861.75H133.29V1864.3ZM135.45,1864.3V1859.05H139.24V1864.3ZM138.7,1864.3V1844.98H142.76V1864.3ZM140.87,1864.3V1850.93H144.11V1864.3ZM174.42,1864.3V1855.8H176.58V1864.3ZM176.04,1864.3V1840.11H178.74V1864.3ZM178.2,1864.3V1829.29H183.61V1864.3ZM183.34,1864.3V1845.52H186.86V1864.3ZM186.32,1864.3V1862.29H189.03V1864.3ZM225.28,1864.3V1859.05H227.45V1864.3ZM226.9,1864.3V1853.64H229.07V1864.3ZM228.53,1864.3V1847.68H233.4V1864.3ZM232.86,1864.3V1861.75H235.56V1864.3ZM341.62,1864.3V1861.21H345.68V1864.3ZM356.5,1864.3V1859.05H358.4V1864.3ZM357.86,1864.3V1855.8H360.56V1864.3ZM360.56,1864.3V1858.51H363.81V1864.3ZM453.91,1864.3V1861.75H457.97V1864.3ZM458.51,1864.3V1848.23H461.21V1864.3ZM460.67,1864.3V1842.81H466.08V1864.3ZM466.08,1864.3V1859.05H470.14V1864.3ZM474.2,1864.3V1861.75H477.45V1864.3ZM508.02,1864.3V1861.75H518.84V1864.3ZM521.55,1864.3V1858.51H524.25V1864.3ZM523.71,1864.3V1860.4H526.15V1864.3ZM572.95,1864.3V1861.75H576.2V1864.3ZM578.37,1864.3V1861.75H581.07V1864.3Z" fill="#e2302a"/>
<path d="M580,1864.3V1861.75H582.16V1864.3ZM589.47,1864.3V1859.05H593.53V1864.3ZM592.18,1864.3V1848.23H594.88V1864.3ZM594.88,1864.3V1826.58H600.29V1864.3ZM598.94,1864.3V1853.64H601.65V1864.3ZM601.65,1864.3V1859.05H604.35V1864.3ZM603.81,1864.3V1861.75H607.06V1864.3ZM608.41,1864.3V1853.64H612.47V1864.3ZM611.93,1864.3V1856.34H615.17V1864.3ZM615.17,1864.3V1859.05H620.58V1864.3ZM627.35,1864.3V1861.75H631.95V1864.3ZM651.7,1864.3V1861.75H657.11V1864.3ZM657.11,1864.3V1856.34H663.87V1864.3ZM679.57,1864.3V1861.75H682.81V1864.3ZM686.87,1864.3V1853.64H691.47V1864.3ZM690.93,1864.3V1859.05H693.64V1864.3ZM693.1,1864.3V1861.75H695.8V1864.3ZM748.29,1864.3V1859.05H751.81V1864.3ZM749.91,1864.3V1853.64H757.22V1864.3ZM757.22,1864.3V1860.4H759.11V1864.3ZM759.92,1864.3V1861.75H762.63V1864.3ZM793.74,1864.3V1856.34H796.45V1864.3ZM795.91,1864.3V1826.58H801.32V1864.3ZM800.51,1864.3V1837.4H803.21V1864.3ZM802.4,1864.3V1856.34H805.92V1864.3ZM805.92,1864.3V1861.75H807.27V1864.3ZM815.39,1864.3V1860.4H819.45V1864.3ZM818.1,1864.3V1857.69H822.15V1864.3ZM821.61,1864.3V1856.34H823.51V1864.3ZM823.51,1864.3V1860.4H825.67V1864.3ZM846.5,1864.3V1850.93H850.56V1864.3ZM850.56,1864.3V1861.75H853.27V1864.3ZM876.27,1864.3V1861.75H881.68V1864.3ZM891.15,1864.3V1861.75H900.62V1864.3ZM924.97,1864.3V1840.11H927.67V1864.3ZM927.67,1864.3V1840.11H930.38V1864.3ZM930.38,1864.3V1823.87H933.08V1864.3ZM932.27,1864.3V1799.52H934.98V1864.3ZM934.98,1864.3V1829.29H937.68V1864.3ZM939.85,1864.3V1850.93H943.91V1864.3ZM943.37,1864.3V1837.4H946.61V1864.3ZM946.07,1864.3V1842.81H949.32V1864.3ZM948.51,1864.3V1842.81H953.92V1864.3ZM953.92,1864.3V1861.75H957.44V1864.3ZM957.44,1864.3V1840.11H964.2V1864.3ZM964.2,1864.3V1807.64H966.36V1864.3ZM966.36,1864.3V1799.52H969.07V1864.3ZM969.07,1864.3V1813.05H970.96V1864.3ZM970.96,1864.3V1848.23H972.86V1864.3ZM972.86,1864.3V1802.23H975.02V1864.3ZM975.02,1864.3V1780.58H978.27V1864.3ZM978.27,1864.3V1840.11H981.79V1864.3ZM981.79,1864.3V1859.05H984.49V1864.3ZM984.49,1864.3V1861.75H998.83V1864.3ZM1016.96,1864.3V1861.75H1021.02V1864.3ZM1041.31,1864.3V1861.75H1049.43V1864.3Z" fill="#e2302a"/>
<line x1="102.2" y1="1865.4" x2="1067" y2="1865.4" stroke="#c9c9c9" stroke-width="2.2"/>
<line x1="101.1" y1="1867.7" x2="1067" y2="1867.7" stroke="#111" stroke-width="2.5"/>
<path d="M135.45,1973V1969.58H138.7V1973ZM138.16,1973V1961.46H141.41V1973ZM140.87,1973V1964.17H144.11V1973ZM176.58,1973V1964.17H187.4V1973ZM225.28,1973V1968.23H228.53V1973ZM227.99,1973V1964.17H232.86V1973ZM232.86,1973V1969.58H235.56V1973ZM344.33,1973V1966.87H347.03V1973ZM347.03,1973V1969.58H349.2V1973ZM351.9,1973V1950.64H354.61V1973ZM354.61,1973V1928.99H357.32V1973ZM356.77,1973V1918.17H360.02V1973ZM359.48,1973V1939.82H362.73V1973ZM362.73,1973V1964.17H365.97V1973ZM380.85,1973V1969.58H387.62V1973ZM388.97,1973V1969.58H395.74V1973ZM427.66,1973V1966.87H439.03V1973ZM452.55,1973V1969.58H455.8V1973ZM458.51,1973V1961.46H461.21V1973ZM460.67,1973V1947.93H466.62V1973ZM465.54,1973V1961.46H471.49V1973ZM471.49,1973V1969.58H474.2V1973ZM474.2,1973V1966.87H482.32V1973ZM482.32,1973V1969.58H485.02V1973ZM490.97,1973V1969.58H496.39V1973ZM506.67,1973V1965.52H509.37V1973ZM508.02,1973V1958.76H513.43V1973ZM513.43,1973V1966.87H518.03V1973ZM518.03,1973V1969.58H521.55V1973ZM521.55,1973V1966.87H535.08V1973ZM545.09,1973V1966.87H552.66V1973ZM552.66,1973V1964.17H558.61V1973ZM558.61,1973V1969.58H562.13V1973ZM572.95,1973V1969.58H575.66V1973Z" fill="#e2302a"/>
<path d="M588.12,1973V1968.23H590.82V1973ZM590.82,1973V1957.4H593.53V1973ZM593.53,1973V1946.58H596.23V1973ZM595.69,1973V1931.7H600.29V1973ZM599.48,1973V1960.11H603V1973ZM603,1973V1968.23H605.7V1973ZM605.7,1973V1966.87H620.58V1973ZM620.58,1973V1964.17H624.64V1973ZM624.64,1973V1969.58H628.7V1973ZM650.89,1973V1969.58H656.3V1973ZM656.3,1973V1956.05H661.17V1973ZM661.17,1973V1969.58H667.12V1973ZM682.81,1973V1969.58H686.06V1973ZM686.06,1973V1953.34H691.47V1973ZM691.47,1973V1969.58H695.8V1973ZM747.75,1973V1961.46H750.45V1973ZM749.91,1973V1945.23H753.16V1973ZM753.16,1973V1962.81H757.22V1973ZM763.44,1973V1969.58H769.94V1973ZM782.92,1973V1956.05H789.69V1973ZM789.69,1973V1950.64H796.45V1973ZM796.45,1973V1916.82H799.7V1973ZM799.7,1973V1899.23H804.03V1973ZM802.4,1973V1941.17H805.92V1973ZM805.92,1973V1969.58H812.68V1973ZM814.31,1973V1962.81H816.74V1973ZM816.74,1973V1956.05H820.8V1973ZM820.26,1973V1945.23H824.05V1973ZM823.51,1973V1964.17H827.56V1973ZM844.61,1973V1962.81H847.86V1973ZM847.32,1973V1950.64H850.56V1973ZM850.56,1973V1968.23H855.43V1973ZM887.9,1973V1969.58H893.85V1973ZM893.85,1973V1956.05H899.26V1973ZM898.72,1973V1961.46H904.13V1973ZM919.56,1973V1969.58H926.32V1973ZM926.32,1973V1947.93H929.03V1973ZM929.03,1973V1942.52H931.73V1973ZM931.73,1973V1937.11H935.79V1973ZM935.79,1973V1964.17H939.85V1973ZM939.85,1973V1912.76H943.1V1973ZM943.1,1973V1891.11H946.61V1973ZM946.61,1973V1912.76H949.32V1973ZM949.32,1973V1912.76H952.84V1973ZM952.84,1973V1951.99H955.54V1973ZM955.54,1973V1912.76H958.79V1973ZM958.79,1973V1901.94H962.03V1973ZM962.03,1973V1904.64H965.55V1973ZM965.55,1973V1891.11H969.61V1973ZM969.61,1973V1908.7H971.77V1973ZM971.77,1973V1945.23H975.02V1973ZM975.02,1973V1910.05H979.08V1973ZM979.08,1973V1945.23H983.14V1973ZM983.14,1973V1962.81H988.55V1973ZM988.55,1973V1966.87H999.37V1973ZM999.37,1973V1958.76H1008.03V1973ZM1008.03,1973V1966.87H1017.77V1973ZM1017.77,1973V1964.17H1023.18V1973ZM1023.18,1973V1969.58H1037.25V1973ZM1037.25,1973V1966.87H1042.66V1973ZM1042.66,1973V1969.58H1054.84V1973Z" fill="#e2302a"/>
<line x1="100.8" y1="1974.3" x2="1067" y2="1974.3" stroke="#111" stroke-width="2.5"/>
<path d="M137.35,2081.1V2076.87H140.05V2081.1ZM139.51,2081.1V2072.27H144.11V2081.1ZM176.58,2081.1V2074.17H179.29V2081.1ZM178.74,2081.1V2069.57H183.34V2081.1ZM183.34,2081.1V2075.52H187.4V2081.1ZM225.28,2081.1V2077.68H228.53V2081.1ZM227.99,2081.1V2072.27H233.94V2081.1ZM344.33,2081.1V2077.68H347.58V2081.1ZM350.28,2081.1V2072.81H352.99V2081.1ZM352.45,2081.1V2060.64H355.15V2081.1ZM355.15,2081.1V2038.99H357.86V2081.1ZM357.32,2081.1V2028.98H360.56V2081.1ZM359.48,2081.1V2053.87H363.81V2081.1ZM362.73,2081.1V2072.81H367.33V2081.1ZM379.5,2081.1V2077.68H388.97V2081.1ZM388.97,2081.1V2075.52H392.49V2081.1ZM392.49,2081.1V2077.68H395.74V2081.1ZM428.2,2081.1V2076.87H431.45V2081.1ZM430.37,2081.1V2072.27H433.61V2081.1ZM433.61,2081.1V2077.68H439.03V2081.1ZM459.32,2081.1V2072.27H461.21V2081.1ZM461.21,2081.1V2059.29H466.62V2081.1ZM466.08,2081.1V2072.27H470.14V2081.1ZM476.36,2081.1V2077.68H480.96V2081.1ZM480.96,2081.1V2074.98H485.02V2081.1ZM490.97,2081.1V2077.68H496.39V2081.1ZM506.67,2081.1V2072.27H508.83V2081.1ZM508.83,2081.1V2064.16H513.43V2081.1ZM513.43,2081.1V2070.11H515.32V2081.1ZM515.32,2081.1V2077.68H518.84V2081.1ZM521.55,2081.1V2074.98H526.96V2081.1ZM526.96,2081.1V2070.11H533.72V2081.1ZM533.72,2081.1V2077.68H535.08V2081.1ZM545.09,2081.1V2076.87H548.6V2081.1ZM547.25,2081.1V2072.27H559.43V2081.1ZM559.43,2081.1V2077.68H562.13V2081.1ZM572.95,2081.1V2077.68H575.66V2081.1Z" fill="#e2302a"/>
<path d="M591.36,2081.1V2061.99H594.88V2081.1ZM594.88,2081.1V2045.76H600.29V2081.1ZM598.94,2081.1V2072.81H601.65V2081.1ZM601.65,2081.1V2076.87H607.06V2081.1ZM608.41,2081.1V2070.11H613.82V2081.1ZM613.82,2081.1V2074.17H616.53V2081.1ZM616.53,2081.1V2071.46H619.23V2081.1ZM619.23,2081.1V2070.11H624.64V2081.1ZM624.64,2081.1V2077.68H628.7V2081.1ZM650.89,2081.1V2074.17H655.76V2081.1ZM655.76,2081.1V2064.16H659.82V2081.1ZM659.82,2081.1V2072.81H663.87V2081.1ZM682.81,2081.1V2076.87H686.06V2081.1ZM686.06,2081.1V2061.45H691.47V2081.1ZM691.47,2081.1V2075.52H695.8V2081.1ZM746.4,2081.1V2074.17H749.91V2081.1ZM749.91,2081.1V2064.16H753.7V2081.1ZM753.7,2081.1V2070.11H757.22V2081.1ZM760.74,2081.1V2077.68H769.94V2081.1ZM782.92,2081.1V2066.86H789.69V2081.1ZM789.69,2081.1V2059.29H795.1V2081.1ZM795.1,2081.1V2040.35H797.8V2081.1ZM797.8,2081.1V2026.82H800.51V2081.1ZM800.51,2081.1V2016H804.03V2081.1ZM802.4,2081.1V2051.17H805.92V2081.1ZM805.92,2081.1V2077.68H810.79V2081.1ZM814.31,2081.1V2064.16H820.26V2081.1ZM820.26,2081.1V2040.35H823.51V2081.1ZM823.51,2081.1V2061.99H827.56V2081.1ZM844.61,2081.1V2074.17H847.86V2081.1ZM847.32,2081.1V2056.04H851.1V2081.1ZM851.1,2081.1V2077.68H855.43V2081.1ZM861.39,2081.1V2077.68H866.8V2081.1ZM891.15,2081.1V2074.17H894.39V2081.1ZM894.39,2081.1V2064.16H899.26V2081.1ZM898.72,2081.1V2075.52H904.13V2081.1ZM919.56,2081.1V2077.68H926.86V2081.1ZM926.86,2081.1V2048.46H931.19V2081.1ZM931.19,2081.1V2037.1H935.79V2081.1ZM935.79,2081.1V2063.34H939.85V2081.1ZM939.85,2081.1V2029.52H943.91V2081.1ZM943.91,2081.1V2004.63H946.61V2081.1ZM946.61,2081.1V2028.98H952.84V2081.1ZM952.84,2081.1V2063.34H956.08V2081.1ZM956.08,2081.1V2041.7H958.79V2081.1ZM958.79,2081.1V2012.75H962.03V2081.1ZM962.03,2081.1V2018.7H965.55V2081.1ZM965.55,2081.1V1994.35H969.07V2081.1ZM969.07,2081.1V2018.7H970.96V2081.1ZM970.96,2081.1V2048.46H975.02V2081.1ZM975.02,2081.1V2004.63H978.27V2081.1ZM978.27,2081.1V2048.46H983.14V2081.1ZM983.14,2081.1V2064.7H987.2V2081.1ZM987.2,2081.1V2075.52H991.26V2081.1ZM991.26,2081.1V2071.46H999.37V2081.1ZM999.37,2081.1V2066.86H1006.14V2081.1ZM1006.14,2081.1V2075.52H1011.55V2081.1ZM1011.55,2081.1V2074.17H1016.96V2081.1ZM1016.96,2081.1V2075.52H1023.72V2081.1ZM1023.72,2081.1V2077.68H1038.6V2081.1ZM1042.66,2081.1V2074.98H1048.07V2081.1ZM1048.07,2081.1V2077.68H1054.84V2081.1Z" fill="#e2302a"/>
<line x1="99.8" y1="2082.4" x2="1067" y2="2082.4" stroke="#111" stroke-width="2.5"/>
<path d="M138.7,2187.2V2180.11H142.76V2187.2ZM142.76,2187.2V2185.52H144.11V2187.2ZM177.93,2187.2V2182.81H183.34V2187.2ZM183.34,2187.2V2186.06H187.4V2187.2ZM226.63,2187.2V2186.06H230.15V2187.2ZM344.33,2187.2V2186.06H349.74V2187.2ZM351.09,2187.2V2180.11H353.8V2187.2ZM353.8,2187.2V2158.46H356.5V2187.2ZM355.15,2187.2V2131.95H360.02V2187.2ZM359.21,2187.2V2158.46H363.27V2187.2ZM361.92,2187.2V2180.11H365.97V2187.2ZM365.97,2187.2V2186.06H371.39V2187.2ZM375.44,2187.2V2185.52H383.56V2187.2ZM383.56,2187.2V2182.81H386.81V2187.2ZM386.81,2187.2V2186.06H388.97V2187.2ZM388.97,2187.2V2182.81H395.74V2187.2ZM402.5,2187.2V2186.06H406.56V2187.2ZM425.5,2187.2V2180.11H428.2V2187.2ZM427.66,2187.2V2169.29H433.07V2187.2ZM433.07,2187.2V2174.7H439.03V2187.2ZM439.03,2187.2V2186.06H441.19V2187.2ZM458.51,2187.2V2174.7H461.21V2187.2ZM460.67,2187.2V2166.58H466.08V2187.2ZM465.54,2187.2V2174.7H470.14V2187.2ZM470.14,2187.2V2186.06H479.61V2187.2ZM490.97,2187.2V2180.11H497.2V2187.2ZM505.31,2187.2V2171.99H508.02V2187.2ZM508.02,2187.2V2163.87H509.91V2187.2ZM509.91,2187.2V2150.89H512.08V2187.2ZM511.54,2187.2V2169.29H514.78V2187.2ZM514.78,2187.2V2182.81H518.84V2187.2ZM522.36,2187.2V2182.81H526.96V2187.2ZM526.96,2187.2V2172.53H532.37V2187.2ZM532.37,2187.2V2180.11H535.08V2187.2ZM535.08,2187.2V2186.06H537.78V2187.2ZM540.49,2187.2V2186.06H545.09V2187.2ZM545.09,2187.2V2180.11H559.43V2187.2ZM559.43,2187.2V2185.52H564.84V2187.2Z" fill="#e2302a"/>
<path d="M590.82,2187.2V2180.11H593.53V2187.2ZM593.53,2187.2V2161.17H596.23V2187.2ZM594.88,2187.2V2153.59H598.94V2187.2ZM598.4,2187.2V2180.11H602.19V2187.2ZM602.19,2187.2V2186.06H617.88V2187.2ZM617.88,2187.2V2180.65H620.58V2187.2ZM619.23,2187.2V2172.53H624.64V2187.2ZM624.64,2187.2V2186.06H628.7V2187.2ZM651.7,2187.2V2182.81H655.22V2187.2ZM655.22,2187.2V2172.53H659.82V2187.2ZM659.82,2187.2V2180.11H663.87V2187.2ZM678.76,2187.2V2186.06H682.81V2187.2ZM686.87,2187.2V2174.7H689.58V2187.2ZM688.23,2187.2V2167.12H691.47V2187.2ZM690.93,2187.2V2184.17H694.99V2187.2ZM722.05,2187.2V2186.06H726.1V2187.2ZM746.4,2187.2V2181.46H750.45V2187.2ZM749.91,2187.2V2172.53H754.51V2187.2ZM754.51,2187.2V2174.7H757.22V2187.2ZM765.34,2187.2V2186.06H769.39V2187.2ZM783.46,2187.2V2161.17H786.17V2187.2ZM786.17,2187.2V2153.59H793.74V2187.2ZM793.74,2187.2V2163.87H796.45V2187.2ZM796.45,2187.2V2145.48H799.7V2187.2ZM799.7,2187.2V2118.42H804.03V2187.2ZM802.4,2187.2V2161.17H805.92V2187.2ZM805.92,2187.2V2182.81H809.44V2187.2ZM814.31,2187.2V2174.7H819.45V2187.2ZM819.45,2187.2V2156.3H822.15V2187.2ZM822.15,2187.2V2169.29H826.21V2187.2ZM826.21,2187.2V2185.52H827.56V2187.2ZM845.15,2187.2V2180.11H847.86V2187.2ZM847.32,2187.2V2175.24H851.1V2187.2ZM851.1,2187.2V2184.17H855.43V2187.2ZM887.09,2187.2V2186.06H894.39V2187.2ZM894.39,2187.2V2180.11H898.72V2187.2ZM898.72,2187.2V2182.81H904.13V2187.2ZM919.56,2187.2V2185.52H926.86V2187.2ZM926.86,2187.2V2176.05H931.19V2187.2ZM931.19,2187.2V2169.83H935.79V2187.2ZM935.79,2187.2V2182.81H939.85V2187.2ZM939.85,2187.2V2158.46H942.55V2187.2ZM942.55,2187.2V2121.13H946.61V2187.2ZM946.61,2187.2V2148.18H952.84V2187.2ZM952.84,2187.2V2174.7H956.08V2187.2ZM956.08,2187.2V2147.64H958.79V2187.2ZM958.79,2187.2V2118.42H962.03V2187.2ZM962.03,2187.2V2126.54H965.55V2187.2ZM965.55,2187.2V2102.19H969.07V2187.2ZM969.07,2187.2V2121.13H970.96V2187.2ZM970.96,2187.2V2158.46H975.02V2187.2ZM975.02,2187.2V2134.65H978.27V2187.2ZM978.27,2187.2V2158.46H983.14V2187.2ZM983.14,2187.2V2171.99H987.2V2187.2ZM987.2,2187.2V2182.81H991.26V2187.2ZM991.26,2187.2V2186.06H995.31V2187.2ZM995.31,2187.2V2182.81H1002.08V2187.2ZM1002.08,2187.2V2175.24H1007.49V2187.2ZM1007.49,2187.2V2182.81H1012.9V2187.2ZM1012.9,2187.2V2186.06H1031.84V2187.2ZM1037.25,2187.2V2185.52H1042.66V2187.2ZM1042.66,2187.2V2182.81H1046.72V2187.2ZM1046.72,2187.2V2186.06H1054.84V2187.2Z" fill="#e2302a"/>
<line x1="98.2" y1="2188.5" x2="1067" y2="2188.5" stroke="#111" stroke-width="2.5"/>
<rect x="424.1" y="1872.4" width="616.4" height="12.4" fill="#6cc9e3"/>
<rect x="351.9" y="1979.3" width="695.6" height="12.4" fill="#6cc9e3"/>
<rect x="350.3" y="2088.6" width="695.1" height="12.4" fill="#6cc9e3"/>
<text x="413.5" y="1913.3" font-size="28.3" textLength="199" lengthAdjust="spacingAndGlyphs">super-enhancer</text>
<text x="413.5" y="2020" font-size="28.3" textLength="199" lengthAdjust="spacingAndGlyphs">super-enhancer</text>
<text x="413.5" y="2134.4" font-size="28.3" textLength="199" lengthAdjust="spacingAndGlyphs">super-enhancer</text>
<path d="M179.2,2213 V2201.6 H202.3" fill="none" stroke="#000" stroke-width="1.6"/>
<path d="M195.3,2195.1 L202.3,2201.6 L195.3,2208.1" fill="none" stroke="#000" stroke-width="1.6"/>
<text x="210.5" y="2212.6" font-size="27.6" textLength="87" lengthAdjust="spacingAndGlyphs">WWP2</text>
<text x="875.5" y="2215.4" font-size="27.7" textLength="105.5" lengthAdjust="spacingAndGlyphs">miR-140</text>
<rect x="996.5" y="2195.2" width="9.8" height="20.3" fill="#e2302a"/>
<line x1="178" y1="2239.5" x2="1045.6" y2="2239.5" stroke="#3941a6" stroke-width="1.4"/>
<path d="M200.15,2233.2 L206.65,2239.5 L200.15,2245.8" fill="none" stroke="#3941a6" stroke-width="2"/>
<path d="M267.55,2233.2 L274.05,2239.5 L267.55,2245.8" fill="none" stroke="#3941a6" stroke-width="2"/>
<path d="M319.75,2233.2 L326.25,2239.5 L319.75,2245.8" fill="none" stroke="#3941a6" stroke-width="2"/>
<path d="M379.45,2233.2 L385.95,2239.5 L379.45,2245.8" fill="none" stroke="#3941a6" stroke-width="2"/>
<path d="M435.45,2233.2 L441.95,2239.5 L435.45,2245.8" fill="none" stroke="#3941a6" stroke-width="2"/>
<path d="M491.35,2233.2 L497.85,2239.5 L491.35,2245.8" fill="none" stroke="#3941a6" stroke-width="2"/>
<path d="M547.35,2233.2 L553.85,2239.5 L547.35,2245.8" fill="none" stroke="#3941a6" stroke-width="2"/>
<path d="M585.45,2233.2 L591.95,2239.5 L585.45,2245.8" fill="none" stroke="#3941a6" stroke-width="2"/>
<path d="M641.25,2233.2 L647.75,2239.5 L641.25,2245.8" fill="none" stroke="#3941a6" stroke-width="2"/>
<path d="M698.45,2233.2 L704.95,2239.5 L698.45,2245.8" fill="none" stroke="#3941a6" stroke-width="2"/>
<path d="M731.05,2233.2 L737.55,2239.5 L731.05,2245.8" fill="none" stroke="#3941a6" stroke-width="2"/>
<path d="M809.15,2233.2 L815.65,2239.5 L809.15,2245.8" fill="none" stroke="#3941a6" stroke-width="2"/>
<path d="M865.05,2233.2 L871.55,2239.5 L865.05,2245.8" fill="none" stroke="#3941a6" stroke-width="2"/>
<path d="M907.55,2233.2 L914.05,2239.5 L907.55,2245.8" fill="none" stroke="#3941a6" stroke-width="2"/>
<path d="M952.75,2233.2 L959.25,2239.5 L952.75,2245.8" fill="none" stroke="#3941a6" stroke-width="2"/>
<rect x="297.3" y="2225.3" width="3" height="26.4" fill="#3941a6"/>
<rect x="554.1" y="2225.3" width="3" height="26.4" fill="#3941a6"/>
<rect x="563.5" y="2225.3" width="3" height="26.4" fill="#3941a6"/>
<rect x="707.1" y="2225.3" width="3" height="26.4" fill="#3941a6"/>
<rect x="785.4" y="2225.3" width="3" height="26.4" fill="#3941a6"/>
<rect x="885.9" y="2225.3" width="3" height="26.4" fill="#3941a6"/>
<rect x="929.1" y="2225.3" width="3" height="26.4" fill="#3941a6"/>
<rect x="967.8" y="2225.3" width="3" height="26.4" fill="#3941a6"/>
<rect x="1008.7" y="2225.3" width="3" height="26.4" fill="#3941a6"/>
<rect x="353.5" y="2225.3" width="6.3" height="26.4" fill="#3941a6"/>
<rect x="986.6" y="2225.3" width="14" height="26.4" fill="#3941a6"/>
<rect x="1018.4" y="2225.3" width="10.1" height="26.4" fill="#3941a6"/>
<rect x="1032.3" y="2225.3" width="7.7" height="26.4" fill="#3941a6"/>
<rect x="1040" y="2231" width="5.6" height="14" fill="#3941a6"/>
<text x="1079.5" y="1718.5" font-size="48" font-weight="bold">d</text>
<text x="1128.5" y="1747.1" font-size="28.2" textLength="262" lengthAdjust="spacingAndGlyphs">mouse chondrocytes</text>
<rect x="1121" y="1791.3" width="966" height="214" fill="#f8f8f9"/>
<rect x="1120.3" y="2036.8" width="966.7" height="35" fill="#f6f6f8"/>
<text x="2004.5" y="1777.7" font-size="28.3">50kb</text>
<rect x="1756.1" y="1787.4" width="328.6" height="8.2" fill="#111"/>
<rect x="1295.2" y="1807" width="765.4" height="12.4" fill="#6cc9e3"/>
<line x1="1120.6" y1="1799" x2="1120.6" y2="1899" stroke="#111" stroke-width="2.3"/>
<line x1="1110.1" y1="1800.1" x2="1121.7" y2="1800.1" stroke="#111" stroke-width="2.3"/>
<text x="1104" y="1804.5" font-size="24" text-anchor="end">11</text>
<text transform="translate(1108.2,1885.2) rotate(-90)" font-size="24" textLength="71.7" lengthAdjust="spacingAndGlyphs">rpm/bp</text>
<text x="1143.4" y="1842.4" font-size="27.9" textLength="119" lengthAdjust="spacingAndGlyphs">H3K27Ac</text>
<text x="1297.2" y="1842.4" font-size="28.1" textLength="198" lengthAdjust="spacingAndGlyphs">super-enhancer</text>
<path d="M1148.94,1898V1894.5H1151.75V1898ZM1172.85,1898V1886.62H1175.1V1898ZM1175.1,1898V1856.23H1177.92V1898ZM1177.07,1898V1875.36H1179.89V1898ZM1179.89,1898V1891.68H1181.29V1898ZM1185.51,1898V1894.5H1187.77V1898ZM1201.55,1898V1894.5H1203.8V1898ZM1206.06,1898V1894.5H1208.31V1898ZM1209.43,1898V1894.5H1212.25V1898ZM1213.65,1898V1894.5H1215.62V1898ZM1222.09,1898V1894.5H1224.06V1898ZM1231.94,1898V1894.5H1235.32V1898ZM1248.82,1898V1892.25H1251.64V1898ZM1250.79,1898V1888.87H1253.04V1898ZM1253.04,1898V1892.25H1257.27V1898ZM1257.27,1898V1890.84H1262.89V1898ZM1267.11,1898V1894.5H1269.08V1898ZM1274.15,1898V1888.87H1276.4V1898ZM1276.4,1898V1894.5H1289.62V1898ZM1297.22,1898V1888.02H1300.03V1898ZM1300.03,1898V1885.21H1302.28V1898ZM1302.28,1898V1880.43H1304.54V1898ZM1304.54,1898V1886.06H1307.35V1898ZM1307.35,1898V1890.84H1310.16V1898ZM1312.98,1898V1883.8H1315.79V1898ZM1315.79,1898V1883.24H1318.6V1898ZM1317.76,1898V1880.43H1320.57V1898ZM1320.57,1898V1888.02H1324.23V1898ZM1324.23,1898V1892.81H1329.86V1898ZM1329.86,1898V1888.87H1336.61V1898ZM1345.9,1898V1892.81H1351.53V1898ZM1351.53,1898V1891.68H1357.15V1898ZM1357.15,1898V1888.02H1361.37V1898ZM1361.37,1898V1880.43H1368.41V1898ZM1368.41,1898V1888.87H1374.03V1898ZM1374.03,1898V1892.81H1378.26V1898ZM1378.26,1898V1886.06H1382.48V1898ZM1382.48,1898V1880.43H1385.29V1898ZM1385.29,1898V1871.99H1387.26V1898ZM1387.26,1898V1869.17H1389.51V1898ZM1389.51,1898V1862.7H1391.76V1898ZM1391.76,1898V1859.04H1394.58V1898ZM1394.58,1898V1864.67H1396.54V1898ZM1396.54,1898V1886.06H1399.36V1898ZM1399.36,1898V1875.36H1403.02V1898ZM1403.02,1898V1883.8H1404.99V1898ZM1404.99,1898V1870.3H1407.8V1898ZM1407.8,1898V1872.55H1409.77V1898ZM1409.77,1898V1864.67H1412.58V1898ZM1412.58,1898V1872.55H1414.83V1898ZM1414.83,1898V1878.18H1417.65V1898ZM1417.65,1898V1887.18H1422.71V1898ZM1422.71,1898V1892.25H1427.5V1898ZM1427.5,1898V1891.68H1440.16V1898ZM1442.97,1898V1894.5H1448.6V1898ZM1451.41,1898V1891.68H1455.63V1898ZM1455.63,1898V1894.5H1458.45V1898ZM1464.07,1898V1892.81H1472.52V1898ZM1472.52,1898V1890.84H1479.55V1898ZM1479.55,1898V1888.87H1483.77V1898ZM1483.77,1898V1880.99H1487.43V1898ZM1487.43,1898V1886.06H1490.24V1898ZM1490.24,1898V1894.5H1495.87V1898ZM1499.25,1898V1892.81H1509.09V1898ZM1511.91,1898V1890.84H1518.94V1898ZM1518.94,1898V1886.06H1523.16V1898ZM1523.16,1898V1888.02H1528.79V1898ZM1528.79,1898V1883.8H1533.01V1898ZM1533.01,1898V1875.93H1535.82V1898ZM1535.82,1898V1873.96H1539.2V1898ZM1539.2,1898V1872.55H1541.45V1898ZM1541.45,1898V1883.8H1543.7V1898ZM1543.7,1898V1892.81H1547.08V1898ZM1552.71,1898V1894.5H1555.52V1898ZM1555.52,1898V1888.87H1565.37V1898ZM1565.37,1898V1866.92H1568.18V1898ZM1568.18,1898V1888.87H1571V1898Z" fill="#e1233b"/>
<path d="M1567,1898V1866.92H1569.25V1898ZM1567,1898V1888.02H1571.22V1898ZM1571.22,1898V1886.06H1574.03V1898ZM1574.03,1898V1889.99H1578.25V1898ZM1578.25,1898V1888.02H1582.48V1898ZM1582.48,1898V1886.62H1585.29V1898ZM1585.29,1898V1888.87H1589.51V1898ZM1589.51,1898V1893.65H1593.73V1898ZM1595.14,1898V1894.5H1602.17V1898ZM1603.02,1898V1892.25H1608.64V1898ZM1608.64,1898V1888.02H1611.46V1898ZM1611.46,1898V1883.24H1614.27V1898ZM1614.27,1898V1888.87H1616.24V1898ZM1616.24,1898V1880.43H1619.05V1898ZM1619.05,1898V1883.8H1621.87V1898ZM1621.87,1898V1891.68H1634.53V1898ZM1634.53,1898V1888.87H1637.34V1898ZM1639.59,1898V1891.68H1648.6V1898ZM1648.6,1898V1894.5H1669.7V1898ZM1673.36,1898V1891.68H1676.74V1898ZM1686.58,1898V1894.5H1689.4V1898ZM1690.8,1898V1888.87H1694.18V1898ZM1694.18,1898V1894.5H1702.06V1898ZM1705.44,1898V1891.68H1709.09V1898ZM1709.09,1898V1886.06H1711.91V1898ZM1711.91,1898V1892.25H1714.72V1898ZM1714.72,1898V1888.87H1717.53V1898ZM1717.53,1898V1889.43H1721.19V1898ZM1721.19,1898V1890.84H1724.01V1898ZM1724.01,1898V1886.06H1726.82V1898ZM1726.82,1898V1888.02H1730.2V1898ZM1730.2,1898V1890.84H1733.01V1898ZM1733.01,1898V1880.99H1735.82V1898ZM1735.82,1898V1875.36H1739.2V1898ZM1739.2,1898V1873.96H1741.45V1898ZM1741.45,1898V1872.55H1744.27V1898ZM1744.27,1898V1886.06H1747.64V1898ZM1749.89,1898V1894.5H1756.08V1898ZM1765.37,1898V1891.68H1773.81V1898ZM1773.81,1898V1894.5H1776.62V1898ZM1779.44,1898V1886.06H1783.09V1898ZM1783.09,1898V1891.68H1785.91V1898ZM1790.69,1898V1894.5H1806.17V1898ZM1810.39,1898V1894.5H1812.36V1898ZM1821.64,1898V1894.5H1823.61V1898ZM1832.9,1898V1894.5H1837.12V1898ZM1837.68,1898V1888.87H1840.49V1898ZM1840.49,1898V1894.5H1854V1898ZM1854,1898V1891.68H1856.81V1898ZM1856.81,1898V1888.87H1859.63V1898ZM1859.63,1898V1890.84H1862.44V1898ZM1862.44,1898V1886.06H1865.26V1898ZM1865.26,1898V1875.36H1868.07V1898ZM1868.07,1898V1883.24H1870.32V1898ZM1872.29,1898V1890.84H1876.51V1898ZM1876.51,1898V1886.62H1879.32V1898ZM1879.32,1898V1875.36H1881.58V1898ZM1881.58,1898V1880.99H1883.54V1898ZM1883.54,1898V1845.82H1885.8V1898ZM1885.8,1898V1871.99H1887.77V1898ZM1887.77,1898V1837.38H1890.02V1898ZM1890.02,1898V1830.91H1891.99V1898ZM1891.99,1898V1828.94H1894.8V1898ZM1894.8,1898V1845.82H1896.77V1898ZM1896.77,1898V1846.66H1899.02V1898ZM1899.02,1898V1850.04H1901.27V1898ZM1901.27,1898V1855.67H1903.24V1898ZM1903.24,1898V1866.36H1905.21V1898ZM1905.21,1898V1878.18H1908.02V1898ZM1908.02,1898V1880.43H1910.84V1898ZM1910.84,1898V1878.18H1913.65V1898ZM1913.65,1898V1875.36H1916.47V1898ZM1916.47,1898V1885.21H1920.12V1898ZM1920.12,1898V1880.43H1922.09V1898ZM1922.09,1898V1885.21H1924.34V1898ZM1924.34,1898V1889.43H1927.16V1898ZM1927.16,1898V1886.06H1929.97V1898ZM1929.97,1898V1889.99H1932.79V1898ZM1932.79,1898V1885.21H1935.6V1898ZM1935.6,1898V1875.36H1937.85V1898ZM1937.85,1898V1880.99H1940.66V1898ZM1940.66,1898V1886.06H1943.48V1898ZM1943.48,1898V1883.8H1946.29V1898ZM1946.29,1898V1878.18H1948.54V1898ZM1948.54,1898V1883.8H1951.36V1898ZM1951.36,1898V1888.02H1955.29V1898ZM1955.29,1898V1889.99H1959.52V1898ZM1959.52,1898V1892.81H1963.74V1898ZM1963.74,1898V1888.87H1966.55V1898ZM1966.55,1898V1892.81H1969.36V1898ZM1969.36,1898V1888.87H1972.18V1898ZM1972.18,1898V1891.68H1974.99V1898ZM1974.99,1898V1889.99H1977.8V1898ZM1977.8,1898V1894.5H1982.03V1898ZM1982.03,1898V1889.99H1989.06V1898ZM1989.06,1898V1886.06H1991.87V1898ZM1991.87,1898V1888.87H1994.69V1898ZM1994.69,1898V1890.84H1997.5V1898ZM1997.5,1898V1893.65H2001.72V1898ZM2014.38,1898V1894.5H2017.2V1898ZM2022.82,1898V1894.5H2025.64V1898ZM2059.4,1898V1886.06H2063.62V1898ZM2063.62,1898V1893.65H2066.44V1898ZM2067.84,1898V1894.5H2070.66V1898ZM2072.06,1898V1893.65H2074.88V1898Z" fill="#e1233b"/>
<line x1="1119.5" y1="1899.1" x2="2084.7" y2="1899.1" stroke="#111" stroke-width="2.5"/>
<line x1="1119.3" y1="1907.1" x2="1119.3" y2="2004.7" stroke="#111" stroke-width="2.3"/>
<line x1="1108.4" y1="1908.2" x2="1120.4" y2="1908.2" stroke="#111" stroke-width="2.3"/>
<text x="1106.6" y="1912.7" font-size="24" text-anchor="end">13</text>
<text transform="translate(1107.4,1999.2) rotate(-90)" font-size="24" textLength="73" lengthAdjust="spacingAndGlyphs">rpm/bp</text>
<text x="1143.4" y="1949.9" font-size="27.9" textLength="63.5" lengthAdjust="spacingAndGlyphs">Sox9</text>
<path d="M1172.29,2003.5V2002.77H1174.54V2003.5ZM1253.04,2003.5V1996.86H1255.86V2003.5ZM1255.86,2003.5V2001.36H1257.83V2003.5ZM1260.08,2003.5V1999.67H1263.46V2003.5ZM1299.47,2003.5V1997.7H1300.88V2003.5ZM1300.88,2003.5V1989.26H1302.85V2003.5ZM1302.85,2003.5V2001.92H1304.54V2003.5ZM1306.51,2003.5V2002.77H1308.47V2003.5ZM1314.95,2003.5V1987.85H1316.92V2003.5ZM1316.92,2003.5V1975.19H1318.6V2003.5ZM1318.6,2003.5V1972.38H1319.73V2003.5ZM1319.73,2003.5V1970.41H1321.42V2003.5ZM1321.42,2003.5V1984.48H1322.54V2003.5ZM1322.54,2003.5V1999.11H1323.67V2003.5ZM1327.61,2003.5V2002.77H1333.24V2003.5ZM1334.64,2003.5V2002.77H1338.86V2003.5ZM1361.94,2003.5V1997.7H1363.62V2003.5ZM1363.62,2003.5V1965.34H1365.03V2003.5ZM1365.03,2003.5V1931.58H1367V2003.5ZM1367,2003.5V1934.95H1368.41V2003.5ZM1368.41,2003.5V1997.7H1369.81V2003.5ZM1380.51,2003.5V1999.11H1381.91V2003.5ZM1381.91,2003.5V1983.63H1383.88V2003.5ZM1383.88,2003.5V1993.48H1385.29V2003.5ZM1386.13,2003.5V1994.89H1388.1V2003.5ZM1388.1,2003.5V1954.09H1389.51V2003.5ZM1389.51,2003.5V1955.5H1391.2V2003.5ZM1391.2,2003.5V1980.82H1392.89V2003.5ZM1392.89,2003.5V1980.82H1394.58V2003.5ZM1394.58,2003.5V1980.82H1396.54V2003.5ZM1396.54,2003.5V1990.67H1398.51V2003.5ZM1398.51,2003.5V1989.26H1400.77V2003.5ZM1407.8,2003.5V1999.11H1410.61V2003.5ZM1410.61,2003.5V1993.48H1412.86V2003.5ZM1412.86,2003.5V1942.83H1414.83V2003.5ZM1414.83,2003.5V1918.92H1417.08V2003.5ZM1417.08,2003.5V1993.48H1418.49V2003.5ZM1418.49,2003.5V2002.77H1421.87V2003.5ZM1453.66,2003.5V1999.67H1456.48V2003.5ZM1464.92,2003.5V1999.67H1468.29V2003.5ZM1472.52,2003.5V2001.92H1476.17V2003.5ZM1476.17,2003.5V1999.67H1480.96V2003.5ZM1480.96,2003.5V1976.6H1482.93V2003.5ZM1482.93,2003.5V1948.46H1485.18V2003.5ZM1485.18,2003.5V1987.85H1486.58V2003.5ZM1486.58,2003.5V1993.48H1489.4V2003.5ZM1526.54,2003.5V1999.67H1530.2V2003.5ZM1530.2,2003.5V2001.36H1531.6V2003.5ZM1531.6,2003.5V1990.67H1533.57V2003.5ZM1533.57,2003.5V1968.16H1535.26V2003.5ZM1535.26,2003.5V1956.9H1537.23V2003.5ZM1537.23,2003.5V1989.26H1539.2V2003.5ZM1539.2,2003.5V2001.36H1540.89V2003.5ZM1555.52,2003.5V2002.77H1561.15V2003.5ZM1561.15,2003.5V1993.48H1562.55V2003.5ZM1562.55,2003.5V1973.22H1563.96V2003.5ZM1563.96,2003.5V1992.07H1565.37V2003.5ZM1565.37,2003.5V2000.51H1566.78V2003.5Z" fill="#2f4ea3"/>
<path d="M1585.29,2003.5V2000.51H1588.1V2003.5ZM1588.1,2003.5V2002.77H1592.32V2003.5ZM1610.61,2003.5V2002.77H1619.05V2003.5ZM1619.05,2003.5V2000.51H1623.27V2003.5ZM1623.27,2003.5V2002.77H1627.5V2003.5ZM1627.5,2003.5V2002.77H1635.94V2003.5ZM1661.26,2003.5V2002.77H1666.89V2003.5ZM1673.92,2003.5V2002.77H1676.74V2003.5ZM1710.5,2003.5V1979.41H1712.75V2003.5ZM1712.75,2003.5V1978.01H1714.72V2003.5ZM1721.19,2003.5V1994.89H1722.6V2003.5ZM1722.6,2003.5V1956.9H1724.57V2003.5ZM1724.57,2003.5V1968.16H1726.82V2003.5ZM1726.82,2003.5V2000.51H1727.95V2003.5ZM1735.26,2003.5V1994.89H1737.23V2003.5ZM1737.23,2003.5V1987.85H1739.2V2003.5ZM1739.2,2003.5V1979.41H1740.89V2003.5ZM1740.89,2003.5V1932.14H1742.58V2003.5ZM1742.58,2003.5V1981.66H1744.27V2003.5ZM1767.34,2003.5V2000.51H1772.4V2003.5ZM1772.4,2003.5V2002.77H1775.22V2003.5ZM1779.44,2003.5V2002.77H1783.66V2003.5ZM1793.51,2003.5V1994.89H1795.47V2003.5ZM1795.47,2003.5V1994.89H1797.73V2003.5ZM1851.19,2003.5V2002.77H1856.81V2003.5ZM1856.81,2003.5V2002.77H1862.44V2003.5ZM1862.44,2003.5V1997.7H1867.51V2003.5ZM1867.51,2003.5V2002.77H1870.88V2003.5ZM1878.76,2003.5V1990.1H1880.73V2003.5ZM1880.73,2003.5V1980.82H1882.7V2003.5ZM1882.7,2003.5V1973.22H1884.39V2003.5ZM1884.39,2003.5V1967.59H1886.36V2003.5ZM1886.36,2003.5V1972.38H1888.33V2003.5ZM1888.33,2003.5V1992.07H1890.02V2003.5ZM1890.02,2003.5V1997.7H1891.99V2003.5ZM1891.99,2003.5V1992.07H1896.21V2003.5ZM1896.21,2003.5V1999.11H1898.46V2003.5ZM1898.46,2003.5V2000.51H1908.87V2003.5ZM1908.87,2003.5V2002.77H1914.5V2003.5ZM1914.5,2003.5V2002.77H1921.53V2003.5ZM1921.53,2003.5V2002.77H1938.41V2003.5ZM1938.41,2003.5V1997.7H1941.23V2003.5ZM1941.23,2003.5V2000.51H1944.04V2003.5ZM1944.04,2003.5V2002.77H1953.89V2003.5ZM1953.89,2003.5V2000.51H1956.7V2003.5ZM1956.7,2003.5V2002.77H1972.18V2003.5ZM1972.18,2003.5V2000.51H1974.99V2003.5ZM1974.99,2003.5V2002.77H1986.25V2003.5ZM1986.25,2003.5V2000.51H1996.09V2003.5ZM1996.09,2003.5V2002.77H2004.54V2003.5ZM2065.03,2003.5V2002.77H2070.66V2003.5Z" fill="#2f4ea3"/>
<line x1="1119.5" y1="2004.7" x2="2083.3" y2="2004.7" stroke="#111" stroke-width="2.4"/>
<path d="M1174.8,2029.7 V2018.7 H1197.6" fill="none" stroke="#000" stroke-width="1.6"/>
<path d="M1190.6,2012.2 L1197.6,2018.7 L1190.6,2025.2" fill="none" stroke="#000" stroke-width="1.6"/>
<text x="1206" y="2032.8" font-size="27.6" textLength="78" lengthAdjust="spacingAndGlyphs">Wwp2</text>
<text x="1791.5" y="2032.8" font-size="27.7" textLength="105.5" lengthAdjust="spacingAndGlyphs">miR-140</text>
<rect x="1924.9" y="2012.3" width="9.2" height="20.2" fill="#e2302a"/>
<line x1="1175" y1="2054.9" x2="1976" y2="2054.9" stroke="#3941a6" stroke-width="1.5"/>
<line x1="1175" y1="2047" x2="1175" y2="2062.5" stroke="#3941a6" stroke-width="1.3"/>
<path d="M1192.95,2048.6 L1199.45,2054.9 L1192.95,2061.2" fill="none" stroke="#3941a6" stroke-width="2"/>
<path d="M1236.75,2048.6 L1243.25,2054.9 L1236.75,2061.2" fill="none" stroke="#3941a6" stroke-width="2"/>
<path d="M1302.95,2048.6 L1309.45,2054.9 L1302.95,2061.2" fill="none" stroke="#3941a6" stroke-width="2"/>
<path d="M1333.45,2048.6 L1339.95,2054.9 L1333.45,2061.2" fill="none" stroke="#3941a6" stroke-width="2"/>
<path d="M1377.25,2048.6 L1383.75,2054.9 L1377.25,2061.2" fill="none" stroke="#3941a6" stroke-width="2"/>
<path d="M1420.95,2048.6 L1427.45,2054.9 L1420.95,2061.2" fill="none" stroke="#3941a6" stroke-width="2"/>
<path d="M1464.75,2048.6 L1471.25,2054.9 L1464.75,2061.2" fill="none" stroke="#3941a6" stroke-width="2"/>
<path d="M1515.15,2048.6 L1521.65,2054.9 L1515.15,2061.2" fill="none" stroke="#3941a6" stroke-width="2"/>
<path d="M1558.85,2048.6 L1565.35,2054.9 L1558.85,2061.2" fill="none" stroke="#3941a6" stroke-width="2"/>
<path d="M1602.85,2048.6 L1609.35,2054.9 L1602.85,2061.2" fill="none" stroke="#3941a6" stroke-width="2"/>
<path d="M1650.45,2048.6 L1656.95,2054.9 L1650.45,2061.2" fill="none" stroke="#3941a6" stroke-width="2"/>
<path d="M1694.35,2048.6 L1700.85,2054.9 L1694.35,2061.2" fill="none" stroke="#3941a6" stroke-width="2"/>
<path d="M1726.65,2048.6 L1733.15,2054.9 L1726.65,2061.2" fill="none" stroke="#3941a6" stroke-width="2"/>
<path d="M1770.95,2048.6 L1777.45,2054.9 L1770.95,2061.2" fill="none" stroke="#3941a6" stroke-width="2"/>
<path d="M1827.45,2048.6 L1833.95,2054.9 L1827.45,2061.2" fill="none" stroke="#3941a6" stroke-width="2"/>
<path d="M1875.85,2048.6 L1882.35,2054.9 L1875.85,2061.2" fill="none" stroke="#3941a6" stroke-width="2"/>
<rect x="1283.5" y="2039.8" width="3" height="27" fill="#3941a6"/>
<rect x="1482.4" y="2039.8" width="3" height="27" fill="#3941a6"/>
<rect x="1497" y="2039.8" width="3" height="27" fill="#3941a6"/>
<rect x="1633.7" y="2039.8" width="3" height="27" fill="#3941a6"/>
<rect x="1708.7" y="2039.8" width="3" height="27" fill="#3941a6"/>
<rect x="1809.6" y="2039.8" width="3" height="27" fill="#3941a6"/>
<rect x="1858.8" y="2039.8" width="3" height="27" fill="#3941a6"/>
<rect x="1888.9" y="2039.8" width="3" height="27" fill="#3941a6"/>
<rect x="1909.1" y="2039.8" width="3" height="27" fill="#3941a6"/>
<rect x="1934.1" y="2039.8" width="3" height="27" fill="#3941a6"/>
<rect x="1313.7" y="2039.8" width="4.9" height="27" fill="#3941a6"/>
<rect x="1914.1" y="2039.8" width="8.1" height="27" fill="#3941a6"/>
<rect x="1946.4" y="2039.8" width="9.9" height="27" fill="#3941a6"/>
<rect x="1962.5" y="2039.8" width="5.5" height="27" fill="#3941a6"/>
<rect x="1968" y="2046.3" width="8" height="14.2" fill="#3941a6"/></svg>
</body></html>
